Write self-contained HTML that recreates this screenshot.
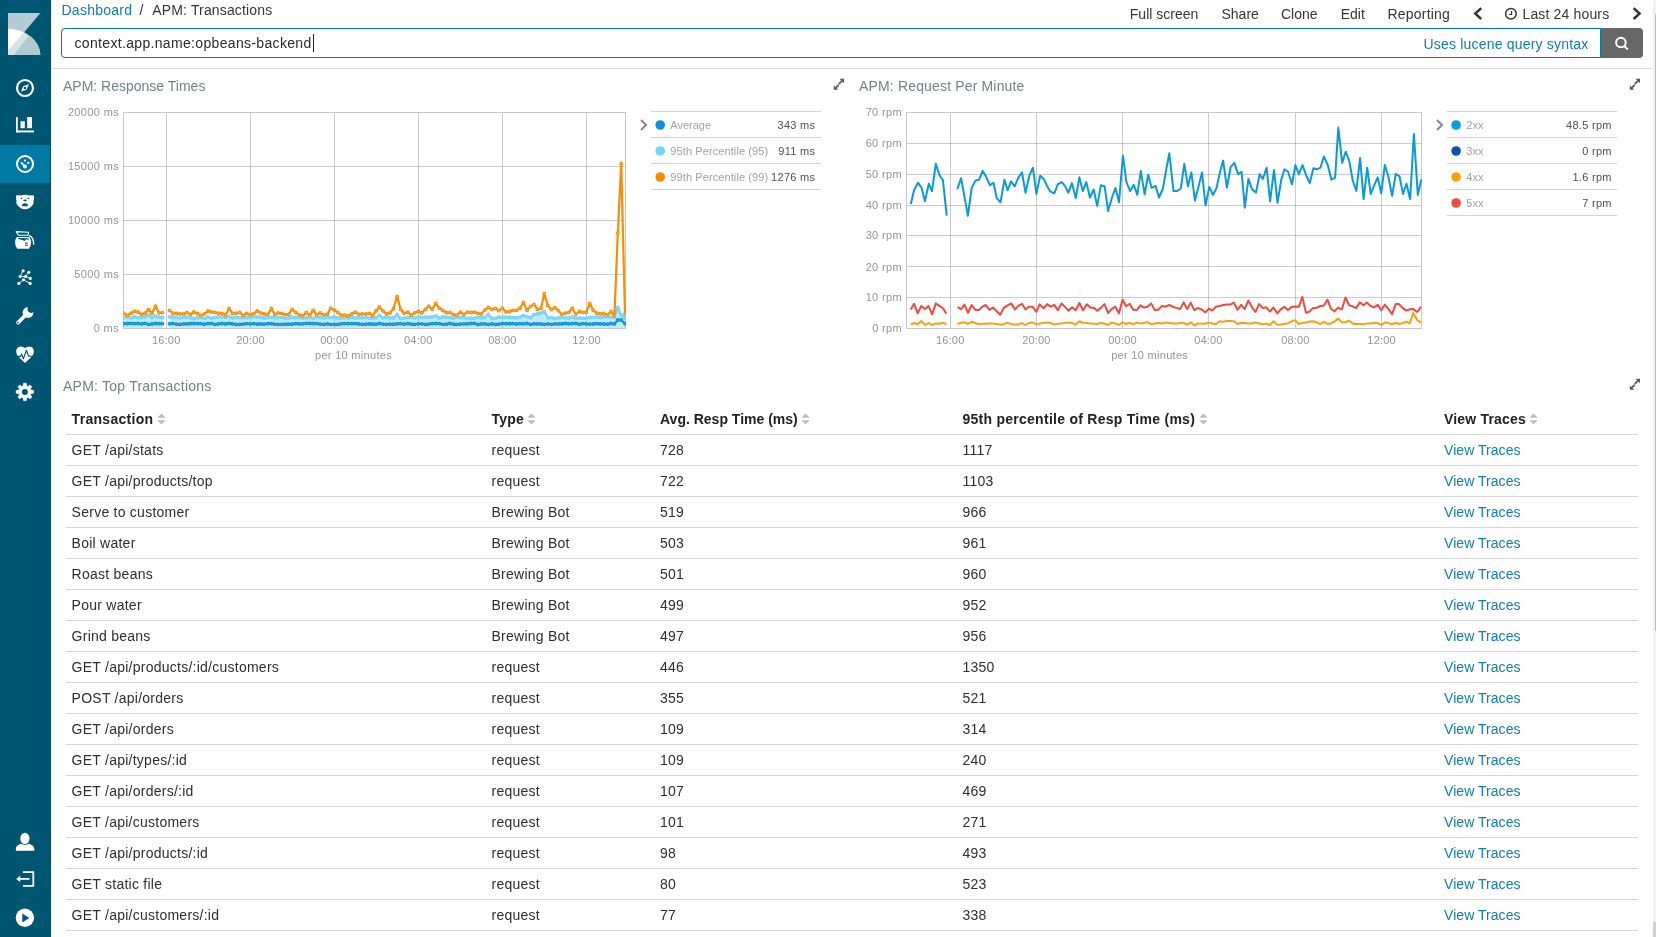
<!DOCTYPE html>
<html><head><meta charset="utf-8">
<style>
html,body{margin:0;padding:0;width:1656px;height:937px;overflow:hidden;background:#fff;}
body{font-family:"Liberation Sans", sans-serif;position:relative;}
#root{position:absolute;left:0;top:0;width:1656px;height:937px;will-change:transform;}
.a{position:absolute;white-space:pre;}
.t14{font-size:14px;line-height:14px;}
.t11{font-size:11px;line-height:11px;}
#side{position:absolute;left:0;top:0;width:51px;height:937px;background:#005571;}
#side .edge{position:absolute;left:50px;top:0;width:1px;height:937px;background:#004d66;}
#side .act{position:absolute;left:0;top:145px;width:50px;height:38px;background:#0079a5;}
.nav{color:#363636;}
.hdr{font-weight:bold;color:#222;}
.cell{color:#2f2f2f;}
.lnk{color:#0e7eab;}
.ylab{color:#959595;text-align:right;letter-spacing:0.35px;}
.xlab{color:#959595;text-align:center;letter-spacing:0.2px;}
.leg{color:#a2a2a2;}
.legv{color:#505050;text-align:right;letter-spacing:0.3px;}
.hl{position:absolute;height:1px;background:#d9d9d9;}
</style></head><body><div id="root">

<div id="side">
  <div class="act"></div>
  <div class="edge"></div>
  <svg width="51" height="937" style="position:absolute;left:0;top:0">
    <!-- logo -->
    <g transform="translate(8,13)">
      <path d="M0,0 L32.5,0 L16,19.4 L8,28.8 L0,28.8 Z" fill="#b4ccd3"/>
      <path d="M0,15.8 A32.5,26.2 0 0 1 32.5,42 L0,42 Z" fill="#b1c9d0"/>
      <path d="M0,15.8 A32.5,26.2 0 0 1 16,19.4 L0,38.2 Z" fill="#ffffff"/>
      <path d="M16,19.4 A32.5,26.2 0 0 1 20.4,23.3 L5.9,42 L0,42 L0,38.2 Z" fill="#d6e4e8"/>
    </g>
    <!-- compass -->
    <circle cx="25" cy="88" r="8" fill="none" stroke="#fff" stroke-width="2.2"/>
    <path d="M28.9,84 L26.7,89.6 L21,91.8 L23.2,86.2 Z" fill="#fff"/>
    <rect x="23.9" y="86.9" width="2.1" height="2.1" fill="#005571"/>
    <!-- visualize -->
    <rect x="16" y="117" width="1.8" height="15.4" fill="#fff"/>
    <rect x="16" y="130.5" width="18" height="1.9" fill="#fff"/>
    <rect x="20.5" y="121.2" width="4.3" height="7" fill="#fff"/>
    <rect x="27.2" y="117" width="4.8" height="11.2" fill="#fff"/>
    <!-- dashboard (active) -->
    <circle cx="25" cy="164" r="8" fill="none" stroke="#fff" stroke-width="2"/>
    <circle cx="25" cy="166.4" r="2" fill="#fff"/>
    <path d="M24.6,165.9 L21.5,162.9" stroke="#fff" stroke-width="1.9" stroke-linecap="round"/>
    <circle cx="24.9" cy="160.6" r="1.05" fill="#fff"/>
    <circle cx="28.3" cy="162.9" r="1.05" fill="#fff"/>
    <!-- bear -->
    <path d="M16,195.5 Q18.5,195.1 20.6,195.6 Q22.5,194.7 25,194.7 Q27.5,194.7 29.4,195.6 Q31.5,195.1 34,195.5 L33.9,199.8 L33.5,200.6 L33.6,203.6 Q32.5,206 29.5,208 Q27.5,209.2 25,209.2 Q22.5,209.2 20.5,208 Q17.5,206 16.4,203.6 L16.5,200.6 L16.1,199.8 Z" fill="#fff"/>
    <ellipse cx="21.5" cy="198.4" rx="0.9" ry="0.55" fill="#005571"/>
    <ellipse cx="28.3" cy="198.4" rx="0.9" ry="0.55" fill="#005571"/>
    <ellipse cx="25" cy="200.4" rx="1.7" ry="0.95" fill="#005571"/>
    <path d="M22,205.9 Q22,203.2 25,203.2 Q28,203.2 28,205.9 Q25,206.5 22,205.9 Z" fill="#005571"/>
    <!-- coffee pot -->
    <path d="M16.2,231.6 L28.6,232.3 L28,235.2 L18.5,235.2 Z" fill="none" stroke="#fff" stroke-width="1.1" stroke-linejoin="round"/>
    <path d="M16.6,237 L29.6,237 Q31.1,239.5 31.1,242.5 Q31.1,246.5 28.9,248.8 L17.3,248.8 Q15.1,246.5 15.1,242.5 Q15.1,239.5 16.6,237 Z" fill="#fff"/>
    <path d="M18,238.1 L28.8,238.3 L28.8,239.5 L25.6,239.5 L25,240.9 Q21,239.8 18,238.8 Z" fill="#005571"/>
    <rect x="25" y="242.6" width="2.8" height="1.1" fill="#005571"/>
    <rect x="25" y="244.7" width="2.8" height="1.1" fill="#005571"/>
    <path d="M28.8,235.4 Q33.7,236.6 33.7,244.8" fill="none" stroke="#fff" stroke-width="1.4"/>
    <!-- graph -->
    <g stroke="#fff" stroke-width="0.9" fill="none">
      <path d="M23.1,270.7 L20.2,276.5 L25.75,276.4 L28.8,272.3 M25.75,276.4 L30.3,278.4 M23.5,279.8 L18.9,283.4 M23.5,279.8 L30.05,283.4"/>
    </g>
    <g fill="#fff">
      <circle cx="23.1" cy="270.7" r="1.55"/><circle cx="28.8" cy="272.3" r="1.55"/>
      <circle cx="20.2" cy="276.5" r="1.6"/><circle cx="25.75" cy="276.4" r="1.55"/>
      <circle cx="30.3" cy="278.4" r="1.6"/><circle cx="23.5" cy="279.8" r="1.6"/>
      <circle cx="18.9" cy="283.4" r="1.6"/><circle cx="30.05" cy="283.4" r="1.6"/>
    </g>
    <!-- wrench -->
    <circle cx="28" cy="312.5" r="5.4" fill="#fff"/>
    <path d="M26.8,313.7 L18.1,322.6" stroke="#fff" stroke-width="3.7" stroke-linecap="round"/>
    <circle cx="31.3" cy="309.1" r="3.8" fill="#005571"/>
    <path d="M31.3,305.3 L36,305.3 L36,309.1 L31.3,309.1 Z" fill="#005571"/>
    <circle cx="18.1" cy="322.6" r="0.95" fill="#005571"/>
    <!-- heart -->
    <path d="M25,348.1 Q23.2,346.4 20.6,346.5 Q16.2,346.8 16.2,351.5 Q16.2,354 17.8,356 L19.2,357.5 L25,362.9 L30.8,357.5 L32.2,356 Q33.9,354 33.9,351.5 Q33.9,346.8 29.4,346.5 Q26.8,346.4 25,348.1 Z" fill="#fff"/>
    <path d="M15.5,356.4 L20.4,356.4 L21.7,354.2 L23.4,358.7 L26.4,350.3 L28.6,356.3 L34.5,356.3" fill="none" stroke="#005571" stroke-width="1.1" stroke-linejoin="round"/>
    <!-- gear -->
    <path d="M23.27,385.81 L23.52,383.21 L26.28,383.21 L26.53,385.81 L28.05,386.44 L29.95,384.94 L31.86,386.85 L30.36,388.75 L30.99,390.27 L33.59,390.52 L33.59,393.28 L30.99,393.53 L30.36,395.05 L31.86,396.95 L29.95,398.86 L28.05,397.36 L26.53,397.99 L26.28,400.59 L23.52,400.59 L23.27,397.99 L21.75,397.36 L19.85,398.86 L17.94,396.95 L19.44,395.05 L18.81,393.53 L16.21,393.28 L16.21,390.52 L18.81,390.27 L19.44,388.75 L17.94,386.85 L19.85,384.94 L21.75,386.44 Z" fill="#fff" stroke="#fff" stroke-width="0.7" stroke-linejoin="round"/>
    <circle cx="24.9" cy="391.9" r="3" fill="#005571"/>
    <!-- user -->
    <ellipse cx="24.9" cy="838.5" rx="4.6" ry="5.8" fill="#fff"/>
    <path d="M15.9,850.8 L15.9,848.5 Q16.5,845 21,843.8 Q24.9,846 28.8,843.8 Q33.3,845 34.3,848.5 L34.3,850.8 Z" fill="#fff"/>
    <!-- logout -->
    <path d="M22.9,872.2 L33.3,872.2 L33.3,885.9 L22.9,885.9" fill="none" stroke="#fff" stroke-width="1.8"/>
    <path d="M19.5,878.9 L29.4,878.9" stroke="#fff" stroke-width="1.8"/>
    <path d="M16.2,878.9 L20.2,875.7 L20.2,882.1 Z" fill="#fff"/>
    <!-- play -->
    <circle cx="24.9" cy="917.7" r="9.2" fill="#fff"/>
    <path d="M22.3,913.6 L29.4,918 L22.3,922.4 Z" fill="#005571"/>
  </svg>
</div>

<!-- breadcrumbs -->
<div class="a t14" style="left:61.5px;top:3px;color:#0e7eab;letter-spacing:0.25px">Dashboard</div>
<div class="a t14 nav" style="left:139.5px;top:3px;">/</div>
<div class="a t14 nav" style="left:152.3px;top:3px;letter-spacing:0.15px">APM: Transactions</div>

<!-- top menu -->
<div class="a t14 nav" style="left:1129.8px;top:7px;">Full screen</div>
<div class="a t14 nav" style="left:1221.5px;top:7px;">Share</div>
<div class="a t14 nav" style="left:1281px;top:7px;">Clone</div>
<div class="a t14 nav" style="left:1340.7px;top:7px;">Edit</div>
<div class="a t14 nav" style="left:1387.5px;top:7px;letter-spacing:0.2px">Reporting</div>
<svg class="a" style="left:1470px;top:6px" width="16" height="16"><path d="M11.2,2.2 L5.3,7.6 L11.2,13" fill="none" stroke="#333" stroke-width="2.5"/></svg>
<svg class="a" style="left:1503px;top:7px" width="16" height="16"><circle cx="7.9" cy="6.8" r="5.3" fill="none" stroke="#333" stroke-width="1.5"/><path d="M8.6,4 L8.6,7.5 L5.9,7.5" fill="none" stroke="#333" stroke-width="1.2"/></svg>
<div class="a t14 nav" style="left:1522.5px;top:7px;letter-spacing:0.15px">Last 24 hours</div>
<svg class="a" style="left:1628px;top:6px" width="16" height="16"><path d="M5.6,2.2 L11.5,7.6 L5.6,13" fill="none" stroke="#333" stroke-width="2.5"/></svg>

<!-- search bar -->
<div class="a" style="left:61px;top:28px;width:1538px;height:28px;border:1px solid #0079a5;border-radius:4px 0 0 4px;box-sizing:content-box;"></div>
<div class="a" style="left:1601px;top:28px;width:42px;height:30px;background:#676767;border-radius:0 4px 4px 0;"></div>
<svg class="a" style="left:1611px;top:33px" width="20" height="20"><circle cx="9.9" cy="9.5" r="4.8" fill="none" stroke="#fff" stroke-width="1.9"/><path d="M13.5,13.2 L16.2,15.9" stroke="#fff" stroke-width="2" stroke-linecap="round"/></svg>
<div class="a t14" style="left:74.5px;top:36px;color:#2b2b2b;letter-spacing:0.33px">context.app.name:opbeans-backend</div>
<div class="a" style="left:313px;top:34px;width:1px;height:18px;background:#222;"></div>
<div class="a t14" style="left:1423.4px;top:37px;color:#0e7eab;letter-spacing:0.2px">Uses lucene query syntax</div>

<div class="hl" style="left:51px;top:68px;width:1602px;"></div>

<!-- panel titles -->
<div class="a t14" style="left:63px;top:79px;color:#738388;letter-spacing:0px;">APM: Response Times</div>
<div class="a t14" style="left:859px;top:79px;color:#738388;letter-spacing:0.16px;">APM: Request Per Minute</div>
<div class="a t14" style="left:63px;top:379px;color:#738388;letter-spacing:0.23px;">APM: Top Transactions</div>

<!-- expand icons -->
<svg class="a" style="left:830px;top:76px" width="16" height="16"><path d="M11.6,5.2 L9.3,7.5 M6.2,11.4 L8.1,9.5" stroke="#5a5a5a" stroke-width="1.8" stroke-linecap="round"/><path d="M14,2.8 L9.6,2.8 L14,7.2 Z M3.8,13.8 L3.8,9.4 L8.2,13.8 Z" fill="#5a5a5a"/></svg>
<svg class="a" style="left:1626px;top:76px" width="16" height="16"><path d="M11.6,5.2 L9.3,7.5 M6.2,11.4 L8.1,9.5" stroke="#5a5a5a" stroke-width="1.8" stroke-linecap="round"/><path d="M14,2.8 L9.6,2.8 L14,7.2 Z M3.8,13.8 L3.8,9.4 L8.2,13.8 Z" fill="#5a5a5a"/></svg>
<svg class="a" style="left:1626px;top:376px" width="16" height="16"><path d="M11.6,5.2 L9.3,7.5 M6.2,11.4 L8.1,9.5" stroke="#5a5a5a" stroke-width="1.8" stroke-linecap="round"/><path d="M14,2.8 L9.6,2.8 L14,7.2 Z M3.8,13.8 L3.8,9.4 L8.2,13.8 Z" fill="#5a5a5a"/></svg>

<!-- chart svgs -->
<svg class="a" style="left:0;top:0" width="1656" height="370">
<line x1="123" y1="166.5" x2="625" y2="166.5" stroke="rgba(0,0,0,0.2)" stroke-width="1"/>
<line x1="123" y1="220.5" x2="625" y2="220.5" stroke="rgba(0,0,0,0.2)" stroke-width="1"/>
<line x1="123" y1="274.5" x2="625" y2="274.5" stroke="rgba(0,0,0,0.2)" stroke-width="1"/>
<line x1="166.5" y1="113" x2="166.5" y2="328" stroke="rgba(0,0,0,0.2)" stroke-width="1"/>
<line x1="250.5" y1="113" x2="250.5" y2="328" stroke="rgba(0,0,0,0.2)" stroke-width="1"/>
<line x1="334.5" y1="113" x2="334.5" y2="328" stroke="rgba(0,0,0,0.2)" stroke-width="1"/>
<line x1="418.5" y1="113" x2="418.5" y2="328" stroke="rgba(0,0,0,0.2)" stroke-width="1"/>
<line x1="502.5" y1="113" x2="502.5" y2="328" stroke="rgba(0,0,0,0.2)" stroke-width="1"/>
<line x1="586.5" y1="113" x2="586.5" y2="328" stroke="rgba(0,0,0,0.2)" stroke-width="1"/>
<rect x="123.5" y="112.5" width="502" height="216" fill="none" stroke="rgba(0,0,0,0.21)" stroke-width="1"/>
<defs><clipPath id="cp1"><rect x="123" y="100" width="503" height="229"/></clipPath></defs><g clip-path="url(#cp1)">
<polygon points="123.5,328.0 123.5,317.3 127.5,317.0 131.0,317.8 134.5,316.9 138.0,317.7 141.6,317.4 145.1,316.9 148.4,315.1 152.0,317.6 155.5,316.0 158.9,316.9 162.4,317.5 162.4,328.0" fill="rgba(110,208,255,0.45)" stroke="none"/>
<polygon points="169.5,328.0 169.5,316.9 172.7,316.9 176.5,317.5 180.0,318.1 183.6,317.0 187.1,317.2 190.5,317.8 193.8,318.3 197.3,317.7 200.8,317.4 204.4,318.4 207.9,316.9 211.4,318.2 215.0,317.3 218.5,317.0 222.0,317.0 225.6,317.3 229.1,316.5 232.6,318.1 236.2,317.1 239.7,317.7 243.2,317.8 246.6,317.4 250.1,317.7 253.6,316.9 257.2,316.9 260.7,317.1 264.2,317.9 267.8,317.5 271.3,317.3 274.7,317.7 278.1,317.5 281.7,317.3 285.2,318.1 288.7,317.9 292.1,317.2 295.6,317.7 299.2,317.6 302.7,318.2 306.2,318.0 309.8,317.3 313.1,318.4 316.6,317.0 320.2,317.5 323.7,318.0 327.3,317.0 330.6,317.6 334.3,316.9 337.9,317.9 341.2,318.0 344.7,317.7 348.2,318.2 351.7,317.3 355.3,317.9 358.8,317.8 362.3,317.7 365.9,317.5 369.4,318.1 372.6,318.3 375.9,317.6 379.4,315.2 383.0,317.9 386.5,316.9 390.0,317.9 393.5,317.8 397.1,314.4 400.6,318.4 404.1,318.1 407.7,317.3 411.2,317.4 414.7,317.9 418.3,316.8 421.8,317.5 425.3,317.1 428.7,317.0 432.2,316.9 435.8,316.0 439.3,318.0 442.8,317.0 446.4,317.2 449.9,317.4 453.4,318.2 456.7,316.9 460.3,317.5 463.8,317.7 467.3,318.2 470.9,318.1 474.4,318.2 477.9,317.2 481.3,317.5 484.8,317.4 488.4,314.5 491.9,318.2 495.4,318.3 498.7,317.0 502.3,317.1 506.0,317.2 509.5,317.2 512.9,317.6 516.4,317.7 519.9,317.2 523.4,315.3 527.0,316.8 530.5,317.5 534.0,314.6 537.4,313.9 541.0,313.1 544.3,311.5 547.8,317.4 551.2,317.7 554.9,318.3 558.4,317.9 561.8,317.6 565.3,317.8 568.8,317.9 572.3,316.9 575.8,318.2 579.4,318.0 582.9,318.2 586.3,318.1 589.7,317.4 593.2,317.4 596.7,317.0 600.3,317.8 603.8,316.9 607.5,316.9 610.9,317.1 614.4,317.1 617.8,307.4 621.2,315.2 625.0,318.0 625.0,328.0" fill="rgba(110,208,255,0.45)" stroke="none"/>
<polyline points="123.5,317.3 127.5,317.0 131.0,317.8 134.5,316.9 138.0,317.7 141.6,317.4 145.1,316.9 148.4,315.1 152.0,317.6 155.5,316.0 158.9,316.9 162.4,317.5" fill="none" stroke="#6fd3fd" stroke-width="2.2" stroke-linejoin="round" />
<circle cx="123.5" cy="317.3" r="1.3" fill="#a8e4fd" stroke="#6fd3fd" stroke-width="1.2"/><circle cx="127.5" cy="317.0" r="1.3" fill="#a8e4fd" stroke="#6fd3fd" stroke-width="1.2"/><circle cx="131.0" cy="317.8" r="1.3" fill="#a8e4fd" stroke="#6fd3fd" stroke-width="1.2"/><circle cx="134.5" cy="316.9" r="1.3" fill="#a8e4fd" stroke="#6fd3fd" stroke-width="1.2"/><circle cx="138.0" cy="317.7" r="1.3" fill="#a8e4fd" stroke="#6fd3fd" stroke-width="1.2"/><circle cx="141.6" cy="317.4" r="1.3" fill="#a8e4fd" stroke="#6fd3fd" stroke-width="1.2"/><circle cx="145.1" cy="316.9" r="1.3" fill="#a8e4fd" stroke="#6fd3fd" stroke-width="1.2"/><circle cx="148.4" cy="315.1" r="1.3" fill="#a8e4fd" stroke="#6fd3fd" stroke-width="1.2"/><circle cx="152.0" cy="317.6" r="1.3" fill="#a8e4fd" stroke="#6fd3fd" stroke-width="1.2"/><circle cx="155.5" cy="316.0" r="1.3" fill="#a8e4fd" stroke="#6fd3fd" stroke-width="1.2"/><circle cx="158.9" cy="316.9" r="1.3" fill="#a8e4fd" stroke="#6fd3fd" stroke-width="1.2"/><circle cx="162.4" cy="317.5" r="1.3" fill="#a8e4fd" stroke="#6fd3fd" stroke-width="1.2"/>
<polyline points="169.5,316.9 172.7,316.9 176.5,317.5 180.0,318.1 183.6,317.0 187.1,317.2 190.5,317.8 193.8,318.3 197.3,317.7 200.8,317.4 204.4,318.4 207.9,316.9 211.4,318.2 215.0,317.3 218.5,317.0 222.0,317.0 225.6,317.3 229.1,316.5 232.6,318.1 236.2,317.1 239.7,317.7 243.2,317.8 246.6,317.4 250.1,317.7 253.6,316.9 257.2,316.9 260.7,317.1 264.2,317.9 267.8,317.5 271.3,317.3 274.7,317.7 278.1,317.5 281.7,317.3 285.2,318.1 288.7,317.9 292.1,317.2 295.6,317.7 299.2,317.6 302.7,318.2 306.2,318.0 309.8,317.3 313.1,318.4 316.6,317.0 320.2,317.5 323.7,318.0 327.3,317.0 330.6,317.6 334.3,316.9 337.9,317.9 341.2,318.0 344.7,317.7 348.2,318.2 351.7,317.3 355.3,317.9 358.8,317.8 362.3,317.7 365.9,317.5 369.4,318.1 372.6,318.3 375.9,317.6 379.4,315.2 383.0,317.9 386.5,316.9 390.0,317.9 393.5,317.8 397.1,314.4 400.6,318.4 404.1,318.1 407.7,317.3 411.2,317.4 414.7,317.9 418.3,316.8 421.8,317.5 425.3,317.1 428.7,317.0 432.2,316.9 435.8,316.0 439.3,318.0 442.8,317.0 446.4,317.2 449.9,317.4 453.4,318.2 456.7,316.9 460.3,317.5 463.8,317.7 467.3,318.2 470.9,318.1 474.4,318.2 477.9,317.2 481.3,317.5 484.8,317.4 488.4,314.5 491.9,318.2 495.4,318.3 498.7,317.0 502.3,317.1 506.0,317.2 509.5,317.2 512.9,317.6 516.4,317.7 519.9,317.2 523.4,315.3 527.0,316.8 530.5,317.5 534.0,314.6 537.4,313.9 541.0,313.1 544.3,311.5 547.8,317.4 551.2,317.7 554.9,318.3 558.4,317.9 561.8,317.6 565.3,317.8 568.8,317.9 572.3,316.9 575.8,318.2 579.4,318.0 582.9,318.2 586.3,318.1 589.7,317.4 593.2,317.4 596.7,317.0 600.3,317.8 603.8,316.9 607.5,316.9 610.9,317.1 614.4,317.1 617.8,307.4 621.2,315.2 625.0,318.0" fill="none" stroke="#6fd3fd" stroke-width="2.2" stroke-linejoin="round" />
<circle cx="169.5" cy="316.9" r="1.3" fill="#a8e4fd" stroke="#6fd3fd" stroke-width="1.2"/><circle cx="172.7" cy="316.9" r="1.3" fill="#a8e4fd" stroke="#6fd3fd" stroke-width="1.2"/><circle cx="176.5" cy="317.5" r="1.3" fill="#a8e4fd" stroke="#6fd3fd" stroke-width="1.2"/><circle cx="180.0" cy="318.1" r="1.3" fill="#a8e4fd" stroke="#6fd3fd" stroke-width="1.2"/><circle cx="183.6" cy="317.0" r="1.3" fill="#a8e4fd" stroke="#6fd3fd" stroke-width="1.2"/><circle cx="187.1" cy="317.2" r="1.3" fill="#a8e4fd" stroke="#6fd3fd" stroke-width="1.2"/><circle cx="190.5" cy="317.8" r="1.3" fill="#a8e4fd" stroke="#6fd3fd" stroke-width="1.2"/><circle cx="193.8" cy="318.3" r="1.3" fill="#a8e4fd" stroke="#6fd3fd" stroke-width="1.2"/><circle cx="197.3" cy="317.7" r="1.3" fill="#a8e4fd" stroke="#6fd3fd" stroke-width="1.2"/><circle cx="200.8" cy="317.4" r="1.3" fill="#a8e4fd" stroke="#6fd3fd" stroke-width="1.2"/><circle cx="204.4" cy="318.4" r="1.3" fill="#a8e4fd" stroke="#6fd3fd" stroke-width="1.2"/><circle cx="207.9" cy="316.9" r="1.3" fill="#a8e4fd" stroke="#6fd3fd" stroke-width="1.2"/><circle cx="211.4" cy="318.2" r="1.3" fill="#a8e4fd" stroke="#6fd3fd" stroke-width="1.2"/><circle cx="215.0" cy="317.3" r="1.3" fill="#a8e4fd" stroke="#6fd3fd" stroke-width="1.2"/><circle cx="218.5" cy="317.0" r="1.3" fill="#a8e4fd" stroke="#6fd3fd" stroke-width="1.2"/><circle cx="222.0" cy="317.0" r="1.3" fill="#a8e4fd" stroke="#6fd3fd" stroke-width="1.2"/><circle cx="225.6" cy="317.3" r="1.3" fill="#a8e4fd" stroke="#6fd3fd" stroke-width="1.2"/><circle cx="229.1" cy="316.5" r="1.3" fill="#a8e4fd" stroke="#6fd3fd" stroke-width="1.2"/><circle cx="232.6" cy="318.1" r="1.3" fill="#a8e4fd" stroke="#6fd3fd" stroke-width="1.2"/><circle cx="236.2" cy="317.1" r="1.3" fill="#a8e4fd" stroke="#6fd3fd" stroke-width="1.2"/><circle cx="239.7" cy="317.7" r="1.3" fill="#a8e4fd" stroke="#6fd3fd" stroke-width="1.2"/><circle cx="243.2" cy="317.8" r="1.3" fill="#a8e4fd" stroke="#6fd3fd" stroke-width="1.2"/><circle cx="246.6" cy="317.4" r="1.3" fill="#a8e4fd" stroke="#6fd3fd" stroke-width="1.2"/><circle cx="250.1" cy="317.7" r="1.3" fill="#a8e4fd" stroke="#6fd3fd" stroke-width="1.2"/><circle cx="253.6" cy="316.9" r="1.3" fill="#a8e4fd" stroke="#6fd3fd" stroke-width="1.2"/><circle cx="257.2" cy="316.9" r="1.3" fill="#a8e4fd" stroke="#6fd3fd" stroke-width="1.2"/><circle cx="260.7" cy="317.1" r="1.3" fill="#a8e4fd" stroke="#6fd3fd" stroke-width="1.2"/><circle cx="264.2" cy="317.9" r="1.3" fill="#a8e4fd" stroke="#6fd3fd" stroke-width="1.2"/><circle cx="267.8" cy="317.5" r="1.3" fill="#a8e4fd" stroke="#6fd3fd" stroke-width="1.2"/><circle cx="271.3" cy="317.3" r="1.3" fill="#a8e4fd" stroke="#6fd3fd" stroke-width="1.2"/><circle cx="274.7" cy="317.7" r="1.3" fill="#a8e4fd" stroke="#6fd3fd" stroke-width="1.2"/><circle cx="278.1" cy="317.5" r="1.3" fill="#a8e4fd" stroke="#6fd3fd" stroke-width="1.2"/><circle cx="281.7" cy="317.3" r="1.3" fill="#a8e4fd" stroke="#6fd3fd" stroke-width="1.2"/><circle cx="285.2" cy="318.1" r="1.3" fill="#a8e4fd" stroke="#6fd3fd" stroke-width="1.2"/><circle cx="288.7" cy="317.9" r="1.3" fill="#a8e4fd" stroke="#6fd3fd" stroke-width="1.2"/><circle cx="292.1" cy="317.2" r="1.3" fill="#a8e4fd" stroke="#6fd3fd" stroke-width="1.2"/><circle cx="295.6" cy="317.7" r="1.3" fill="#a8e4fd" stroke="#6fd3fd" stroke-width="1.2"/><circle cx="299.2" cy="317.6" r="1.3" fill="#a8e4fd" stroke="#6fd3fd" stroke-width="1.2"/><circle cx="302.7" cy="318.2" r="1.3" fill="#a8e4fd" stroke="#6fd3fd" stroke-width="1.2"/><circle cx="306.2" cy="318.0" r="1.3" fill="#a8e4fd" stroke="#6fd3fd" stroke-width="1.2"/><circle cx="309.8" cy="317.3" r="1.3" fill="#a8e4fd" stroke="#6fd3fd" stroke-width="1.2"/><circle cx="313.1" cy="318.4" r="1.3" fill="#a8e4fd" stroke="#6fd3fd" stroke-width="1.2"/><circle cx="316.6" cy="317.0" r="1.3" fill="#a8e4fd" stroke="#6fd3fd" stroke-width="1.2"/><circle cx="320.2" cy="317.5" r="1.3" fill="#a8e4fd" stroke="#6fd3fd" stroke-width="1.2"/><circle cx="323.7" cy="318.0" r="1.3" fill="#a8e4fd" stroke="#6fd3fd" stroke-width="1.2"/><circle cx="327.3" cy="317.0" r="1.3" fill="#a8e4fd" stroke="#6fd3fd" stroke-width="1.2"/><circle cx="330.6" cy="317.6" r="1.3" fill="#a8e4fd" stroke="#6fd3fd" stroke-width="1.2"/><circle cx="334.3" cy="316.9" r="1.3" fill="#a8e4fd" stroke="#6fd3fd" stroke-width="1.2"/><circle cx="337.9" cy="317.9" r="1.3" fill="#a8e4fd" stroke="#6fd3fd" stroke-width="1.2"/><circle cx="341.2" cy="318.0" r="1.3" fill="#a8e4fd" stroke="#6fd3fd" stroke-width="1.2"/><circle cx="344.7" cy="317.7" r="1.3" fill="#a8e4fd" stroke="#6fd3fd" stroke-width="1.2"/><circle cx="348.2" cy="318.2" r="1.3" fill="#a8e4fd" stroke="#6fd3fd" stroke-width="1.2"/><circle cx="351.7" cy="317.3" r="1.3" fill="#a8e4fd" stroke="#6fd3fd" stroke-width="1.2"/><circle cx="355.3" cy="317.9" r="1.3" fill="#a8e4fd" stroke="#6fd3fd" stroke-width="1.2"/><circle cx="358.8" cy="317.8" r="1.3" fill="#a8e4fd" stroke="#6fd3fd" stroke-width="1.2"/><circle cx="362.3" cy="317.7" r="1.3" fill="#a8e4fd" stroke="#6fd3fd" stroke-width="1.2"/><circle cx="365.9" cy="317.5" r="1.3" fill="#a8e4fd" stroke="#6fd3fd" stroke-width="1.2"/><circle cx="369.4" cy="318.1" r="1.3" fill="#a8e4fd" stroke="#6fd3fd" stroke-width="1.2"/><circle cx="372.6" cy="318.3" r="1.3" fill="#a8e4fd" stroke="#6fd3fd" stroke-width="1.2"/><circle cx="375.9" cy="317.6" r="1.3" fill="#a8e4fd" stroke="#6fd3fd" stroke-width="1.2"/><circle cx="379.4" cy="315.2" r="1.3" fill="#a8e4fd" stroke="#6fd3fd" stroke-width="1.2"/><circle cx="383.0" cy="317.9" r="1.3" fill="#a8e4fd" stroke="#6fd3fd" stroke-width="1.2"/><circle cx="386.5" cy="316.9" r="1.3" fill="#a8e4fd" stroke="#6fd3fd" stroke-width="1.2"/><circle cx="390.0" cy="317.9" r="1.3" fill="#a8e4fd" stroke="#6fd3fd" stroke-width="1.2"/><circle cx="393.5" cy="317.8" r="1.3" fill="#a8e4fd" stroke="#6fd3fd" stroke-width="1.2"/><circle cx="397.1" cy="314.4" r="1.3" fill="#a8e4fd" stroke="#6fd3fd" stroke-width="1.2"/><circle cx="400.6" cy="318.4" r="1.3" fill="#a8e4fd" stroke="#6fd3fd" stroke-width="1.2"/><circle cx="404.1" cy="318.1" r="1.3" fill="#a8e4fd" stroke="#6fd3fd" stroke-width="1.2"/><circle cx="407.7" cy="317.3" r="1.3" fill="#a8e4fd" stroke="#6fd3fd" stroke-width="1.2"/><circle cx="411.2" cy="317.4" r="1.3" fill="#a8e4fd" stroke="#6fd3fd" stroke-width="1.2"/><circle cx="414.7" cy="317.9" r="1.3" fill="#a8e4fd" stroke="#6fd3fd" stroke-width="1.2"/><circle cx="418.3" cy="316.8" r="1.3" fill="#a8e4fd" stroke="#6fd3fd" stroke-width="1.2"/><circle cx="421.8" cy="317.5" r="1.3" fill="#a8e4fd" stroke="#6fd3fd" stroke-width="1.2"/><circle cx="425.3" cy="317.1" r="1.3" fill="#a8e4fd" stroke="#6fd3fd" stroke-width="1.2"/><circle cx="428.7" cy="317.0" r="1.3" fill="#a8e4fd" stroke="#6fd3fd" stroke-width="1.2"/><circle cx="432.2" cy="316.9" r="1.3" fill="#a8e4fd" stroke="#6fd3fd" stroke-width="1.2"/><circle cx="435.8" cy="316.0" r="1.3" fill="#a8e4fd" stroke="#6fd3fd" stroke-width="1.2"/><circle cx="439.3" cy="318.0" r="1.3" fill="#a8e4fd" stroke="#6fd3fd" stroke-width="1.2"/><circle cx="442.8" cy="317.0" r="1.3" fill="#a8e4fd" stroke="#6fd3fd" stroke-width="1.2"/><circle cx="446.4" cy="317.2" r="1.3" fill="#a8e4fd" stroke="#6fd3fd" stroke-width="1.2"/><circle cx="449.9" cy="317.4" r="1.3" fill="#a8e4fd" stroke="#6fd3fd" stroke-width="1.2"/><circle cx="453.4" cy="318.2" r="1.3" fill="#a8e4fd" stroke="#6fd3fd" stroke-width="1.2"/><circle cx="456.7" cy="316.9" r="1.3" fill="#a8e4fd" stroke="#6fd3fd" stroke-width="1.2"/><circle cx="460.3" cy="317.5" r="1.3" fill="#a8e4fd" stroke="#6fd3fd" stroke-width="1.2"/><circle cx="463.8" cy="317.7" r="1.3" fill="#a8e4fd" stroke="#6fd3fd" stroke-width="1.2"/><circle cx="467.3" cy="318.2" r="1.3" fill="#a8e4fd" stroke="#6fd3fd" stroke-width="1.2"/><circle cx="470.9" cy="318.1" r="1.3" fill="#a8e4fd" stroke="#6fd3fd" stroke-width="1.2"/><circle cx="474.4" cy="318.2" r="1.3" fill="#a8e4fd" stroke="#6fd3fd" stroke-width="1.2"/><circle cx="477.9" cy="317.2" r="1.3" fill="#a8e4fd" stroke="#6fd3fd" stroke-width="1.2"/><circle cx="481.3" cy="317.5" r="1.3" fill="#a8e4fd" stroke="#6fd3fd" stroke-width="1.2"/><circle cx="484.8" cy="317.4" r="1.3" fill="#a8e4fd" stroke="#6fd3fd" stroke-width="1.2"/><circle cx="488.4" cy="314.5" r="1.3" fill="#a8e4fd" stroke="#6fd3fd" stroke-width="1.2"/><circle cx="491.9" cy="318.2" r="1.3" fill="#a8e4fd" stroke="#6fd3fd" stroke-width="1.2"/><circle cx="495.4" cy="318.3" r="1.3" fill="#a8e4fd" stroke="#6fd3fd" stroke-width="1.2"/><circle cx="498.7" cy="317.0" r="1.3" fill="#a8e4fd" stroke="#6fd3fd" stroke-width="1.2"/><circle cx="502.3" cy="317.1" r="1.3" fill="#a8e4fd" stroke="#6fd3fd" stroke-width="1.2"/><circle cx="506.0" cy="317.2" r="1.3" fill="#a8e4fd" stroke="#6fd3fd" stroke-width="1.2"/><circle cx="509.5" cy="317.2" r="1.3" fill="#a8e4fd" stroke="#6fd3fd" stroke-width="1.2"/><circle cx="512.9" cy="317.6" r="1.3" fill="#a8e4fd" stroke="#6fd3fd" stroke-width="1.2"/><circle cx="516.4" cy="317.7" r="1.3" fill="#a8e4fd" stroke="#6fd3fd" stroke-width="1.2"/><circle cx="519.9" cy="317.2" r="1.3" fill="#a8e4fd" stroke="#6fd3fd" stroke-width="1.2"/><circle cx="523.4" cy="315.3" r="1.3" fill="#a8e4fd" stroke="#6fd3fd" stroke-width="1.2"/><circle cx="527.0" cy="316.8" r="1.3" fill="#a8e4fd" stroke="#6fd3fd" stroke-width="1.2"/><circle cx="530.5" cy="317.5" r="1.3" fill="#a8e4fd" stroke="#6fd3fd" stroke-width="1.2"/><circle cx="534.0" cy="314.6" r="1.3" fill="#a8e4fd" stroke="#6fd3fd" stroke-width="1.2"/><circle cx="537.4" cy="313.9" r="1.3" fill="#a8e4fd" stroke="#6fd3fd" stroke-width="1.2"/><circle cx="541.0" cy="313.1" r="1.3" fill="#a8e4fd" stroke="#6fd3fd" stroke-width="1.2"/><circle cx="544.3" cy="311.5" r="1.3" fill="#a8e4fd" stroke="#6fd3fd" stroke-width="1.2"/><circle cx="547.8" cy="317.4" r="1.3" fill="#a8e4fd" stroke="#6fd3fd" stroke-width="1.2"/><circle cx="551.2" cy="317.7" r="1.3" fill="#a8e4fd" stroke="#6fd3fd" stroke-width="1.2"/><circle cx="554.9" cy="318.3" r="1.3" fill="#a8e4fd" stroke="#6fd3fd" stroke-width="1.2"/><circle cx="558.4" cy="317.9" r="1.3" fill="#a8e4fd" stroke="#6fd3fd" stroke-width="1.2"/><circle cx="561.8" cy="317.6" r="1.3" fill="#a8e4fd" stroke="#6fd3fd" stroke-width="1.2"/><circle cx="565.3" cy="317.8" r="1.3" fill="#a8e4fd" stroke="#6fd3fd" stroke-width="1.2"/><circle cx="568.8" cy="317.9" r="1.3" fill="#a8e4fd" stroke="#6fd3fd" stroke-width="1.2"/><circle cx="572.3" cy="316.9" r="1.3" fill="#a8e4fd" stroke="#6fd3fd" stroke-width="1.2"/><circle cx="575.8" cy="318.2" r="1.3" fill="#a8e4fd" stroke="#6fd3fd" stroke-width="1.2"/><circle cx="579.4" cy="318.0" r="1.3" fill="#a8e4fd" stroke="#6fd3fd" stroke-width="1.2"/><circle cx="582.9" cy="318.2" r="1.3" fill="#a8e4fd" stroke="#6fd3fd" stroke-width="1.2"/><circle cx="586.3" cy="318.1" r="1.3" fill="#a8e4fd" stroke="#6fd3fd" stroke-width="1.2"/><circle cx="589.7" cy="317.4" r="1.3" fill="#a8e4fd" stroke="#6fd3fd" stroke-width="1.2"/><circle cx="593.2" cy="317.4" r="1.3" fill="#a8e4fd" stroke="#6fd3fd" stroke-width="1.2"/><circle cx="596.7" cy="317.0" r="1.3" fill="#a8e4fd" stroke="#6fd3fd" stroke-width="1.2"/><circle cx="600.3" cy="317.8" r="1.3" fill="#a8e4fd" stroke="#6fd3fd" stroke-width="1.2"/><circle cx="603.8" cy="316.9" r="1.3" fill="#a8e4fd" stroke="#6fd3fd" stroke-width="1.2"/><circle cx="607.5" cy="316.9" r="1.3" fill="#a8e4fd" stroke="#6fd3fd" stroke-width="1.2"/><circle cx="610.9" cy="317.1" r="1.3" fill="#a8e4fd" stroke="#6fd3fd" stroke-width="1.2"/><circle cx="614.4" cy="317.1" r="1.3" fill="#a8e4fd" stroke="#6fd3fd" stroke-width="1.2"/><circle cx="617.8" cy="307.4" r="1.3" fill="#a8e4fd" stroke="#6fd3fd" stroke-width="1.2"/><circle cx="621.2" cy="315.2" r="1.3" fill="#a8e4fd" stroke="#6fd3fd" stroke-width="1.2"/><circle cx="625.0" cy="318.0" r="1.3" fill="#a8e4fd" stroke="#6fd3fd" stroke-width="1.2"/>
<polyline points="123.5,323.7 127.5,323.5 131.0,323.4 134.5,323.6 138.0,323.5 141.6,323.8 145.1,323.4 148.4,324.3 152.0,324.0 155.5,323.5 158.9,323.7 162.4,323.7" fill="none" stroke="#0b8fd6" stroke-width="2.2" stroke-linejoin="round" />
<circle cx="123.5" cy="323.7" r="1.3" fill="#56b4e6" stroke="#0b8fd6" stroke-width="1.2"/><circle cx="127.5" cy="323.5" r="1.3" fill="#56b4e6" stroke="#0b8fd6" stroke-width="1.2"/><circle cx="131.0" cy="323.4" r="1.3" fill="#56b4e6" stroke="#0b8fd6" stroke-width="1.2"/><circle cx="134.5" cy="323.6" r="1.3" fill="#56b4e6" stroke="#0b8fd6" stroke-width="1.2"/><circle cx="138.0" cy="323.5" r="1.3" fill="#56b4e6" stroke="#0b8fd6" stroke-width="1.2"/><circle cx="141.6" cy="323.8" r="1.3" fill="#56b4e6" stroke="#0b8fd6" stroke-width="1.2"/><circle cx="145.1" cy="323.4" r="1.3" fill="#56b4e6" stroke="#0b8fd6" stroke-width="1.2"/><circle cx="148.4" cy="324.3" r="1.3" fill="#56b4e6" stroke="#0b8fd6" stroke-width="1.2"/><circle cx="152.0" cy="324.0" r="1.3" fill="#56b4e6" stroke="#0b8fd6" stroke-width="1.2"/><circle cx="155.5" cy="323.5" r="1.3" fill="#56b4e6" stroke="#0b8fd6" stroke-width="1.2"/><circle cx="158.9" cy="323.7" r="1.3" fill="#56b4e6" stroke="#0b8fd6" stroke-width="1.2"/><circle cx="162.4" cy="323.7" r="1.3" fill="#56b4e6" stroke="#0b8fd6" stroke-width="1.2"/>
<polyline points="169.5,323.8 172.7,323.5 176.5,324.2 180.0,324.4 183.6,323.9 187.1,323.9 190.5,323.5 193.8,323.5 197.3,323.7 200.8,323.7 204.4,324.2 207.9,323.6 211.4,323.4 215.0,324.4 218.5,323.9 222.0,323.5 225.6,323.9 229.1,323.4 232.6,323.9 236.2,324.4 239.7,324.3 243.2,324.1 246.6,323.7 250.1,323.8 253.6,323.6 257.2,324.2 260.7,323.9 264.2,324.2 267.8,323.7 271.3,323.6 274.7,324.2 278.1,324.4 281.7,324.3 285.2,324.2 288.7,324.2 292.1,324.1 295.6,323.6 299.2,323.9 302.7,323.8 306.2,323.4 309.8,323.4 313.1,323.7 316.6,323.7 320.2,324.1 323.7,324.4 327.3,323.8 330.6,324.3 334.3,324.4 337.9,324.4 341.2,323.8 344.7,323.6 348.2,323.6 351.7,323.6 355.3,323.6 358.8,324.0 362.3,324.3 365.9,324.2 369.4,323.9 372.6,324.1 375.9,324.2 379.4,323.5 383.0,324.1 386.5,324.3 390.0,324.2 393.5,324.2 397.1,323.9 400.6,323.6 404.1,324.2 407.7,323.7 411.2,324.2 414.7,324.4 418.3,323.8 421.8,323.8 425.3,324.3 428.7,324.1 432.2,323.6 435.8,323.5 439.3,323.6 442.8,324.3 446.4,324.2 449.9,323.5 453.4,324.2 456.7,324.4 460.3,324.1 463.8,323.8 467.3,323.9 470.9,323.5 474.4,323.4 477.9,324.4 481.3,324.0 484.8,323.9 488.4,324.3 491.9,323.8 495.4,324.3 498.7,324.2 502.3,323.6 506.0,323.7 509.5,323.7 512.9,323.6 516.4,324.0 519.9,323.7 523.4,323.8 527.0,323.5 530.5,324.3 534.0,323.8 537.4,323.9 541.0,324.0 544.3,324.3 547.8,323.8 551.2,324.3 554.9,323.9 558.4,323.9 561.8,323.9 565.3,323.4 568.8,323.8 572.3,323.6 575.8,323.4 579.4,324.2 582.9,323.6 586.3,323.9 589.7,324.1 593.2,324.0 596.7,323.7 600.3,323.9 603.8,324.0 607.5,324.2 610.9,323.5 614.4,324.0 617.8,320.0 621.2,320.0 625.0,323.6" fill="none" stroke="#0b8fd6" stroke-width="2.2" stroke-linejoin="round" />
<circle cx="169.5" cy="323.8" r="1.3" fill="#56b4e6" stroke="#0b8fd6" stroke-width="1.2"/><circle cx="172.7" cy="323.5" r="1.3" fill="#56b4e6" stroke="#0b8fd6" stroke-width="1.2"/><circle cx="176.5" cy="324.2" r="1.3" fill="#56b4e6" stroke="#0b8fd6" stroke-width="1.2"/><circle cx="180.0" cy="324.4" r="1.3" fill="#56b4e6" stroke="#0b8fd6" stroke-width="1.2"/><circle cx="183.6" cy="323.9" r="1.3" fill="#56b4e6" stroke="#0b8fd6" stroke-width="1.2"/><circle cx="187.1" cy="323.9" r="1.3" fill="#56b4e6" stroke="#0b8fd6" stroke-width="1.2"/><circle cx="190.5" cy="323.5" r="1.3" fill="#56b4e6" stroke="#0b8fd6" stroke-width="1.2"/><circle cx="193.8" cy="323.5" r="1.3" fill="#56b4e6" stroke="#0b8fd6" stroke-width="1.2"/><circle cx="197.3" cy="323.7" r="1.3" fill="#56b4e6" stroke="#0b8fd6" stroke-width="1.2"/><circle cx="200.8" cy="323.7" r="1.3" fill="#56b4e6" stroke="#0b8fd6" stroke-width="1.2"/><circle cx="204.4" cy="324.2" r="1.3" fill="#56b4e6" stroke="#0b8fd6" stroke-width="1.2"/><circle cx="207.9" cy="323.6" r="1.3" fill="#56b4e6" stroke="#0b8fd6" stroke-width="1.2"/><circle cx="211.4" cy="323.4" r="1.3" fill="#56b4e6" stroke="#0b8fd6" stroke-width="1.2"/><circle cx="215.0" cy="324.4" r="1.3" fill="#56b4e6" stroke="#0b8fd6" stroke-width="1.2"/><circle cx="218.5" cy="323.9" r="1.3" fill="#56b4e6" stroke="#0b8fd6" stroke-width="1.2"/><circle cx="222.0" cy="323.5" r="1.3" fill="#56b4e6" stroke="#0b8fd6" stroke-width="1.2"/><circle cx="225.6" cy="323.9" r="1.3" fill="#56b4e6" stroke="#0b8fd6" stroke-width="1.2"/><circle cx="229.1" cy="323.4" r="1.3" fill="#56b4e6" stroke="#0b8fd6" stroke-width="1.2"/><circle cx="232.6" cy="323.9" r="1.3" fill="#56b4e6" stroke="#0b8fd6" stroke-width="1.2"/><circle cx="236.2" cy="324.4" r="1.3" fill="#56b4e6" stroke="#0b8fd6" stroke-width="1.2"/><circle cx="239.7" cy="324.3" r="1.3" fill="#56b4e6" stroke="#0b8fd6" stroke-width="1.2"/><circle cx="243.2" cy="324.1" r="1.3" fill="#56b4e6" stroke="#0b8fd6" stroke-width="1.2"/><circle cx="246.6" cy="323.7" r="1.3" fill="#56b4e6" stroke="#0b8fd6" stroke-width="1.2"/><circle cx="250.1" cy="323.8" r="1.3" fill="#56b4e6" stroke="#0b8fd6" stroke-width="1.2"/><circle cx="253.6" cy="323.6" r="1.3" fill="#56b4e6" stroke="#0b8fd6" stroke-width="1.2"/><circle cx="257.2" cy="324.2" r="1.3" fill="#56b4e6" stroke="#0b8fd6" stroke-width="1.2"/><circle cx="260.7" cy="323.9" r="1.3" fill="#56b4e6" stroke="#0b8fd6" stroke-width="1.2"/><circle cx="264.2" cy="324.2" r="1.3" fill="#56b4e6" stroke="#0b8fd6" stroke-width="1.2"/><circle cx="267.8" cy="323.7" r="1.3" fill="#56b4e6" stroke="#0b8fd6" stroke-width="1.2"/><circle cx="271.3" cy="323.6" r="1.3" fill="#56b4e6" stroke="#0b8fd6" stroke-width="1.2"/><circle cx="274.7" cy="324.2" r="1.3" fill="#56b4e6" stroke="#0b8fd6" stroke-width="1.2"/><circle cx="278.1" cy="324.4" r="1.3" fill="#56b4e6" stroke="#0b8fd6" stroke-width="1.2"/><circle cx="281.7" cy="324.3" r="1.3" fill="#56b4e6" stroke="#0b8fd6" stroke-width="1.2"/><circle cx="285.2" cy="324.2" r="1.3" fill="#56b4e6" stroke="#0b8fd6" stroke-width="1.2"/><circle cx="288.7" cy="324.2" r="1.3" fill="#56b4e6" stroke="#0b8fd6" stroke-width="1.2"/><circle cx="292.1" cy="324.1" r="1.3" fill="#56b4e6" stroke="#0b8fd6" stroke-width="1.2"/><circle cx="295.6" cy="323.6" r="1.3" fill="#56b4e6" stroke="#0b8fd6" stroke-width="1.2"/><circle cx="299.2" cy="323.9" r="1.3" fill="#56b4e6" stroke="#0b8fd6" stroke-width="1.2"/><circle cx="302.7" cy="323.8" r="1.3" fill="#56b4e6" stroke="#0b8fd6" stroke-width="1.2"/><circle cx="306.2" cy="323.4" r="1.3" fill="#56b4e6" stroke="#0b8fd6" stroke-width="1.2"/><circle cx="309.8" cy="323.4" r="1.3" fill="#56b4e6" stroke="#0b8fd6" stroke-width="1.2"/><circle cx="313.1" cy="323.7" r="1.3" fill="#56b4e6" stroke="#0b8fd6" stroke-width="1.2"/><circle cx="316.6" cy="323.7" r="1.3" fill="#56b4e6" stroke="#0b8fd6" stroke-width="1.2"/><circle cx="320.2" cy="324.1" r="1.3" fill="#56b4e6" stroke="#0b8fd6" stroke-width="1.2"/><circle cx="323.7" cy="324.4" r="1.3" fill="#56b4e6" stroke="#0b8fd6" stroke-width="1.2"/><circle cx="327.3" cy="323.8" r="1.3" fill="#56b4e6" stroke="#0b8fd6" stroke-width="1.2"/><circle cx="330.6" cy="324.3" r="1.3" fill="#56b4e6" stroke="#0b8fd6" stroke-width="1.2"/><circle cx="334.3" cy="324.4" r="1.3" fill="#56b4e6" stroke="#0b8fd6" stroke-width="1.2"/><circle cx="337.9" cy="324.4" r="1.3" fill="#56b4e6" stroke="#0b8fd6" stroke-width="1.2"/><circle cx="341.2" cy="323.8" r="1.3" fill="#56b4e6" stroke="#0b8fd6" stroke-width="1.2"/><circle cx="344.7" cy="323.6" r="1.3" fill="#56b4e6" stroke="#0b8fd6" stroke-width="1.2"/><circle cx="348.2" cy="323.6" r="1.3" fill="#56b4e6" stroke="#0b8fd6" stroke-width="1.2"/><circle cx="351.7" cy="323.6" r="1.3" fill="#56b4e6" stroke="#0b8fd6" stroke-width="1.2"/><circle cx="355.3" cy="323.6" r="1.3" fill="#56b4e6" stroke="#0b8fd6" stroke-width="1.2"/><circle cx="358.8" cy="324.0" r="1.3" fill="#56b4e6" stroke="#0b8fd6" stroke-width="1.2"/><circle cx="362.3" cy="324.3" r="1.3" fill="#56b4e6" stroke="#0b8fd6" stroke-width="1.2"/><circle cx="365.9" cy="324.2" r="1.3" fill="#56b4e6" stroke="#0b8fd6" stroke-width="1.2"/><circle cx="369.4" cy="323.9" r="1.3" fill="#56b4e6" stroke="#0b8fd6" stroke-width="1.2"/><circle cx="372.6" cy="324.1" r="1.3" fill="#56b4e6" stroke="#0b8fd6" stroke-width="1.2"/><circle cx="375.9" cy="324.2" r="1.3" fill="#56b4e6" stroke="#0b8fd6" stroke-width="1.2"/><circle cx="379.4" cy="323.5" r="1.3" fill="#56b4e6" stroke="#0b8fd6" stroke-width="1.2"/><circle cx="383.0" cy="324.1" r="1.3" fill="#56b4e6" stroke="#0b8fd6" stroke-width="1.2"/><circle cx="386.5" cy="324.3" r="1.3" fill="#56b4e6" stroke="#0b8fd6" stroke-width="1.2"/><circle cx="390.0" cy="324.2" r="1.3" fill="#56b4e6" stroke="#0b8fd6" stroke-width="1.2"/><circle cx="393.5" cy="324.2" r="1.3" fill="#56b4e6" stroke="#0b8fd6" stroke-width="1.2"/><circle cx="397.1" cy="323.9" r="1.3" fill="#56b4e6" stroke="#0b8fd6" stroke-width="1.2"/><circle cx="400.6" cy="323.6" r="1.3" fill="#56b4e6" stroke="#0b8fd6" stroke-width="1.2"/><circle cx="404.1" cy="324.2" r="1.3" fill="#56b4e6" stroke="#0b8fd6" stroke-width="1.2"/><circle cx="407.7" cy="323.7" r="1.3" fill="#56b4e6" stroke="#0b8fd6" stroke-width="1.2"/><circle cx="411.2" cy="324.2" r="1.3" fill="#56b4e6" stroke="#0b8fd6" stroke-width="1.2"/><circle cx="414.7" cy="324.4" r="1.3" fill="#56b4e6" stroke="#0b8fd6" stroke-width="1.2"/><circle cx="418.3" cy="323.8" r="1.3" fill="#56b4e6" stroke="#0b8fd6" stroke-width="1.2"/><circle cx="421.8" cy="323.8" r="1.3" fill="#56b4e6" stroke="#0b8fd6" stroke-width="1.2"/><circle cx="425.3" cy="324.3" r="1.3" fill="#56b4e6" stroke="#0b8fd6" stroke-width="1.2"/><circle cx="428.7" cy="324.1" r="1.3" fill="#56b4e6" stroke="#0b8fd6" stroke-width="1.2"/><circle cx="432.2" cy="323.6" r="1.3" fill="#56b4e6" stroke="#0b8fd6" stroke-width="1.2"/><circle cx="435.8" cy="323.5" r="1.3" fill="#56b4e6" stroke="#0b8fd6" stroke-width="1.2"/><circle cx="439.3" cy="323.6" r="1.3" fill="#56b4e6" stroke="#0b8fd6" stroke-width="1.2"/><circle cx="442.8" cy="324.3" r="1.3" fill="#56b4e6" stroke="#0b8fd6" stroke-width="1.2"/><circle cx="446.4" cy="324.2" r="1.3" fill="#56b4e6" stroke="#0b8fd6" stroke-width="1.2"/><circle cx="449.9" cy="323.5" r="1.3" fill="#56b4e6" stroke="#0b8fd6" stroke-width="1.2"/><circle cx="453.4" cy="324.2" r="1.3" fill="#56b4e6" stroke="#0b8fd6" stroke-width="1.2"/><circle cx="456.7" cy="324.4" r="1.3" fill="#56b4e6" stroke="#0b8fd6" stroke-width="1.2"/><circle cx="460.3" cy="324.1" r="1.3" fill="#56b4e6" stroke="#0b8fd6" stroke-width="1.2"/><circle cx="463.8" cy="323.8" r="1.3" fill="#56b4e6" stroke="#0b8fd6" stroke-width="1.2"/><circle cx="467.3" cy="323.9" r="1.3" fill="#56b4e6" stroke="#0b8fd6" stroke-width="1.2"/><circle cx="470.9" cy="323.5" r="1.3" fill="#56b4e6" stroke="#0b8fd6" stroke-width="1.2"/><circle cx="474.4" cy="323.4" r="1.3" fill="#56b4e6" stroke="#0b8fd6" stroke-width="1.2"/><circle cx="477.9" cy="324.4" r="1.3" fill="#56b4e6" stroke="#0b8fd6" stroke-width="1.2"/><circle cx="481.3" cy="324.0" r="1.3" fill="#56b4e6" stroke="#0b8fd6" stroke-width="1.2"/><circle cx="484.8" cy="323.9" r="1.3" fill="#56b4e6" stroke="#0b8fd6" stroke-width="1.2"/><circle cx="488.4" cy="324.3" r="1.3" fill="#56b4e6" stroke="#0b8fd6" stroke-width="1.2"/><circle cx="491.9" cy="323.8" r="1.3" fill="#56b4e6" stroke="#0b8fd6" stroke-width="1.2"/><circle cx="495.4" cy="324.3" r="1.3" fill="#56b4e6" stroke="#0b8fd6" stroke-width="1.2"/><circle cx="498.7" cy="324.2" r="1.3" fill="#56b4e6" stroke="#0b8fd6" stroke-width="1.2"/><circle cx="502.3" cy="323.6" r="1.3" fill="#56b4e6" stroke="#0b8fd6" stroke-width="1.2"/><circle cx="506.0" cy="323.7" r="1.3" fill="#56b4e6" stroke="#0b8fd6" stroke-width="1.2"/><circle cx="509.5" cy="323.7" r="1.3" fill="#56b4e6" stroke="#0b8fd6" stroke-width="1.2"/><circle cx="512.9" cy="323.6" r="1.3" fill="#56b4e6" stroke="#0b8fd6" stroke-width="1.2"/><circle cx="516.4" cy="324.0" r="1.3" fill="#56b4e6" stroke="#0b8fd6" stroke-width="1.2"/><circle cx="519.9" cy="323.7" r="1.3" fill="#56b4e6" stroke="#0b8fd6" stroke-width="1.2"/><circle cx="523.4" cy="323.8" r="1.3" fill="#56b4e6" stroke="#0b8fd6" stroke-width="1.2"/><circle cx="527.0" cy="323.5" r="1.3" fill="#56b4e6" stroke="#0b8fd6" stroke-width="1.2"/><circle cx="530.5" cy="324.3" r="1.3" fill="#56b4e6" stroke="#0b8fd6" stroke-width="1.2"/><circle cx="534.0" cy="323.8" r="1.3" fill="#56b4e6" stroke="#0b8fd6" stroke-width="1.2"/><circle cx="537.4" cy="323.9" r="1.3" fill="#56b4e6" stroke="#0b8fd6" stroke-width="1.2"/><circle cx="541.0" cy="324.0" r="1.3" fill="#56b4e6" stroke="#0b8fd6" stroke-width="1.2"/><circle cx="544.3" cy="324.3" r="1.3" fill="#56b4e6" stroke="#0b8fd6" stroke-width="1.2"/><circle cx="547.8" cy="323.8" r="1.3" fill="#56b4e6" stroke="#0b8fd6" stroke-width="1.2"/><circle cx="551.2" cy="324.3" r="1.3" fill="#56b4e6" stroke="#0b8fd6" stroke-width="1.2"/><circle cx="554.9" cy="323.9" r="1.3" fill="#56b4e6" stroke="#0b8fd6" stroke-width="1.2"/><circle cx="558.4" cy="323.9" r="1.3" fill="#56b4e6" stroke="#0b8fd6" stroke-width="1.2"/><circle cx="561.8" cy="323.9" r="1.3" fill="#56b4e6" stroke="#0b8fd6" stroke-width="1.2"/><circle cx="565.3" cy="323.4" r="1.3" fill="#56b4e6" stroke="#0b8fd6" stroke-width="1.2"/><circle cx="568.8" cy="323.8" r="1.3" fill="#56b4e6" stroke="#0b8fd6" stroke-width="1.2"/><circle cx="572.3" cy="323.6" r="1.3" fill="#56b4e6" stroke="#0b8fd6" stroke-width="1.2"/><circle cx="575.8" cy="323.4" r="1.3" fill="#56b4e6" stroke="#0b8fd6" stroke-width="1.2"/><circle cx="579.4" cy="324.2" r="1.3" fill="#56b4e6" stroke="#0b8fd6" stroke-width="1.2"/><circle cx="582.9" cy="323.6" r="1.3" fill="#56b4e6" stroke="#0b8fd6" stroke-width="1.2"/><circle cx="586.3" cy="323.9" r="1.3" fill="#56b4e6" stroke="#0b8fd6" stroke-width="1.2"/><circle cx="589.7" cy="324.1" r="1.3" fill="#56b4e6" stroke="#0b8fd6" stroke-width="1.2"/><circle cx="593.2" cy="324.0" r="1.3" fill="#56b4e6" stroke="#0b8fd6" stroke-width="1.2"/><circle cx="596.7" cy="323.7" r="1.3" fill="#56b4e6" stroke="#0b8fd6" stroke-width="1.2"/><circle cx="600.3" cy="323.9" r="1.3" fill="#56b4e6" stroke="#0b8fd6" stroke-width="1.2"/><circle cx="603.8" cy="324.0" r="1.3" fill="#56b4e6" stroke="#0b8fd6" stroke-width="1.2"/><circle cx="607.5" cy="324.2" r="1.3" fill="#56b4e6" stroke="#0b8fd6" stroke-width="1.2"/><circle cx="610.9" cy="323.5" r="1.3" fill="#56b4e6" stroke="#0b8fd6" stroke-width="1.2"/><circle cx="614.4" cy="324.0" r="1.3" fill="#56b4e6" stroke="#0b8fd6" stroke-width="1.2"/><circle cx="617.8" cy="320.0" r="1.3" fill="#56b4e6" stroke="#0b8fd6" stroke-width="1.2"/><circle cx="621.2" cy="320.0" r="1.3" fill="#56b4e6" stroke="#0b8fd6" stroke-width="1.2"/><circle cx="625.0" cy="323.6" r="1.3" fill="#56b4e6" stroke="#0b8fd6" stroke-width="1.2"/>
<polyline points="123.5,313.2 127.5,315.3 131.0,313.2 134.5,311.2 138.0,312.0 141.6,314.5 145.1,313.2 148.4,309.6 152.0,313.5 155.5,306.1 158.9,312.8 162.4,312.6" fill="none" stroke="#fb8c00" stroke-width="2.2" stroke-linejoin="round" />
<circle cx="123.5" cy="313.2" r="1.3" fill="#fdbf73" stroke="#fb8c00" stroke-width="1.2"/><circle cx="127.5" cy="315.3" r="1.3" fill="#fdbf73" stroke="#fb8c00" stroke-width="1.2"/><circle cx="131.0" cy="313.2" r="1.3" fill="#fdbf73" stroke="#fb8c00" stroke-width="1.2"/><circle cx="134.5" cy="311.2" r="1.3" fill="#fdbf73" stroke="#fb8c00" stroke-width="1.2"/><circle cx="138.0" cy="312.0" r="1.3" fill="#fdbf73" stroke="#fb8c00" stroke-width="1.2"/><circle cx="141.6" cy="314.5" r="1.3" fill="#fdbf73" stroke="#fb8c00" stroke-width="1.2"/><circle cx="145.1" cy="313.2" r="1.3" fill="#fdbf73" stroke="#fb8c00" stroke-width="1.2"/><circle cx="148.4" cy="309.6" r="1.3" fill="#fdbf73" stroke="#fb8c00" stroke-width="1.2"/><circle cx="152.0" cy="313.5" r="1.3" fill="#fdbf73" stroke="#fb8c00" stroke-width="1.2"/><circle cx="155.5" cy="306.1" r="1.3" fill="#fdbf73" stroke="#fb8c00" stroke-width="1.2"/><circle cx="158.9" cy="312.8" r="1.3" fill="#fdbf73" stroke="#fb8c00" stroke-width="1.2"/><circle cx="162.4" cy="312.6" r="1.3" fill="#fdbf73" stroke="#fb8c00" stroke-width="1.2"/>
<polyline points="169.5,310.3 172.7,313.2 176.5,313.5 180.0,313.9 183.6,313.9 187.1,312.4 190.5,314.5 193.8,312.0 197.3,313.5 200.8,315.5 204.4,313.9 207.9,311.0 211.4,312.0 215.0,312.4 218.5,313.2 222.0,313.5 225.6,315.0 229.1,308.4 232.6,313.5 236.2,313.2 239.7,312.4 243.2,315.5 246.6,313.3 250.1,314.7 253.6,313.6 257.2,310.9 260.7,312.9 264.2,313.9 267.8,314.7 271.3,308.5 274.7,314.4 278.1,312.9 281.7,313.3 285.2,314.7 288.7,314.4 292.1,309.3 295.6,312.5 299.2,314.8 302.7,316.0 306.2,312.5 309.8,315.2 313.1,310.3 316.6,314.8 320.2,312.9 323.7,314.7 327.3,314.4 330.6,308.2 334.3,310.1 337.9,312.5 341.2,315.2 344.7,315.2 348.2,316.0 351.7,314.0 355.3,312.1 358.8,314.4 362.3,313.9 365.9,314.0 369.4,313.3 372.6,315.8 375.9,310.9 379.4,307.0 383.0,310.9 386.5,314.0 390.0,312.9 393.5,308.5 397.1,296.4 400.6,309.3 404.1,313.3 407.7,312.1 411.2,315.2 414.7,312.9 418.3,311.3 421.8,312.9 425.3,309.3 428.7,306.2 432.2,309.3 435.8,303.4 439.3,308.2 442.8,310.5 446.4,312.5 449.9,312.5 453.4,314.4 456.7,315.2 460.3,312.1 463.8,314.4 467.3,312.1 470.9,312.5 474.4,312.1 477.9,313.3 481.3,314.0 484.8,310.1 488.4,307.4 491.9,309.3 495.4,308.5 498.7,310.7 502.3,308.2 506.0,311.9 509.5,311.5 512.9,310.3 516.4,310.4 519.9,308.2 523.4,302.3 527.0,310.4 530.5,306.4 534.0,304.4 537.4,309.4 541.0,308.2 544.3,293.6 547.8,305.4 551.2,309.4 554.9,307.7 558.4,310.7 561.8,314.3 565.3,313.1 568.8,312.3 572.3,308.2 575.8,314.3 579.4,311.5 582.9,312.3 586.3,312.3 589.7,303.3 593.2,310.3 596.7,313.1 600.3,313.9 603.8,313.5 607.5,314.7 610.9,311.5 614.4,316.0 617.8,233.0 621.2,163.5 625.0,313.9" fill="none" stroke="#fb8c00" stroke-width="2.2" stroke-linejoin="round" />
<circle cx="169.5" cy="310.3" r="1.3" fill="#fdbf73" stroke="#fb8c00" stroke-width="1.2"/><circle cx="172.7" cy="313.2" r="1.3" fill="#fdbf73" stroke="#fb8c00" stroke-width="1.2"/><circle cx="176.5" cy="313.5" r="1.3" fill="#fdbf73" stroke="#fb8c00" stroke-width="1.2"/><circle cx="180.0" cy="313.9" r="1.3" fill="#fdbf73" stroke="#fb8c00" stroke-width="1.2"/><circle cx="183.6" cy="313.9" r="1.3" fill="#fdbf73" stroke="#fb8c00" stroke-width="1.2"/><circle cx="187.1" cy="312.4" r="1.3" fill="#fdbf73" stroke="#fb8c00" stroke-width="1.2"/><circle cx="190.5" cy="314.5" r="1.3" fill="#fdbf73" stroke="#fb8c00" stroke-width="1.2"/><circle cx="193.8" cy="312.0" r="1.3" fill="#fdbf73" stroke="#fb8c00" stroke-width="1.2"/><circle cx="197.3" cy="313.5" r="1.3" fill="#fdbf73" stroke="#fb8c00" stroke-width="1.2"/><circle cx="200.8" cy="315.5" r="1.3" fill="#fdbf73" stroke="#fb8c00" stroke-width="1.2"/><circle cx="204.4" cy="313.9" r="1.3" fill="#fdbf73" stroke="#fb8c00" stroke-width="1.2"/><circle cx="207.9" cy="311.0" r="1.3" fill="#fdbf73" stroke="#fb8c00" stroke-width="1.2"/><circle cx="211.4" cy="312.0" r="1.3" fill="#fdbf73" stroke="#fb8c00" stroke-width="1.2"/><circle cx="215.0" cy="312.4" r="1.3" fill="#fdbf73" stroke="#fb8c00" stroke-width="1.2"/><circle cx="218.5" cy="313.2" r="1.3" fill="#fdbf73" stroke="#fb8c00" stroke-width="1.2"/><circle cx="222.0" cy="313.5" r="1.3" fill="#fdbf73" stroke="#fb8c00" stroke-width="1.2"/><circle cx="225.6" cy="315.0" r="1.3" fill="#fdbf73" stroke="#fb8c00" stroke-width="1.2"/><circle cx="229.1" cy="308.4" r="1.3" fill="#fdbf73" stroke="#fb8c00" stroke-width="1.2"/><circle cx="232.6" cy="313.5" r="1.3" fill="#fdbf73" stroke="#fb8c00" stroke-width="1.2"/><circle cx="236.2" cy="313.2" r="1.3" fill="#fdbf73" stroke="#fb8c00" stroke-width="1.2"/><circle cx="239.7" cy="312.4" r="1.3" fill="#fdbf73" stroke="#fb8c00" stroke-width="1.2"/><circle cx="243.2" cy="315.5" r="1.3" fill="#fdbf73" stroke="#fb8c00" stroke-width="1.2"/><circle cx="246.6" cy="313.3" r="1.3" fill="#fdbf73" stroke="#fb8c00" stroke-width="1.2"/><circle cx="250.1" cy="314.7" r="1.3" fill="#fdbf73" stroke="#fb8c00" stroke-width="1.2"/><circle cx="253.6" cy="313.6" r="1.3" fill="#fdbf73" stroke="#fb8c00" stroke-width="1.2"/><circle cx="257.2" cy="310.9" r="1.3" fill="#fdbf73" stroke="#fb8c00" stroke-width="1.2"/><circle cx="260.7" cy="312.9" r="1.3" fill="#fdbf73" stroke="#fb8c00" stroke-width="1.2"/><circle cx="264.2" cy="313.9" r="1.3" fill="#fdbf73" stroke="#fb8c00" stroke-width="1.2"/><circle cx="267.8" cy="314.7" r="1.3" fill="#fdbf73" stroke="#fb8c00" stroke-width="1.2"/><circle cx="271.3" cy="308.5" r="1.3" fill="#fdbf73" stroke="#fb8c00" stroke-width="1.2"/><circle cx="274.7" cy="314.4" r="1.3" fill="#fdbf73" stroke="#fb8c00" stroke-width="1.2"/><circle cx="278.1" cy="312.9" r="1.3" fill="#fdbf73" stroke="#fb8c00" stroke-width="1.2"/><circle cx="281.7" cy="313.3" r="1.3" fill="#fdbf73" stroke="#fb8c00" stroke-width="1.2"/><circle cx="285.2" cy="314.7" r="1.3" fill="#fdbf73" stroke="#fb8c00" stroke-width="1.2"/><circle cx="288.7" cy="314.4" r="1.3" fill="#fdbf73" stroke="#fb8c00" stroke-width="1.2"/><circle cx="292.1" cy="309.3" r="1.3" fill="#fdbf73" stroke="#fb8c00" stroke-width="1.2"/><circle cx="295.6" cy="312.5" r="1.3" fill="#fdbf73" stroke="#fb8c00" stroke-width="1.2"/><circle cx="299.2" cy="314.8" r="1.3" fill="#fdbf73" stroke="#fb8c00" stroke-width="1.2"/><circle cx="302.7" cy="316.0" r="1.3" fill="#fdbf73" stroke="#fb8c00" stroke-width="1.2"/><circle cx="306.2" cy="312.5" r="1.3" fill="#fdbf73" stroke="#fb8c00" stroke-width="1.2"/><circle cx="309.8" cy="315.2" r="1.3" fill="#fdbf73" stroke="#fb8c00" stroke-width="1.2"/><circle cx="313.1" cy="310.3" r="1.3" fill="#fdbf73" stroke="#fb8c00" stroke-width="1.2"/><circle cx="316.6" cy="314.8" r="1.3" fill="#fdbf73" stroke="#fb8c00" stroke-width="1.2"/><circle cx="320.2" cy="312.9" r="1.3" fill="#fdbf73" stroke="#fb8c00" stroke-width="1.2"/><circle cx="323.7" cy="314.7" r="1.3" fill="#fdbf73" stroke="#fb8c00" stroke-width="1.2"/><circle cx="327.3" cy="314.4" r="1.3" fill="#fdbf73" stroke="#fb8c00" stroke-width="1.2"/><circle cx="330.6" cy="308.2" r="1.3" fill="#fdbf73" stroke="#fb8c00" stroke-width="1.2"/><circle cx="334.3" cy="310.1" r="1.3" fill="#fdbf73" stroke="#fb8c00" stroke-width="1.2"/><circle cx="337.9" cy="312.5" r="1.3" fill="#fdbf73" stroke="#fb8c00" stroke-width="1.2"/><circle cx="341.2" cy="315.2" r="1.3" fill="#fdbf73" stroke="#fb8c00" stroke-width="1.2"/><circle cx="344.7" cy="315.2" r="1.3" fill="#fdbf73" stroke="#fb8c00" stroke-width="1.2"/><circle cx="348.2" cy="316.0" r="1.3" fill="#fdbf73" stroke="#fb8c00" stroke-width="1.2"/><circle cx="351.7" cy="314.0" r="1.3" fill="#fdbf73" stroke="#fb8c00" stroke-width="1.2"/><circle cx="355.3" cy="312.1" r="1.3" fill="#fdbf73" stroke="#fb8c00" stroke-width="1.2"/><circle cx="358.8" cy="314.4" r="1.3" fill="#fdbf73" stroke="#fb8c00" stroke-width="1.2"/><circle cx="362.3" cy="313.9" r="1.3" fill="#fdbf73" stroke="#fb8c00" stroke-width="1.2"/><circle cx="365.9" cy="314.0" r="1.3" fill="#fdbf73" stroke="#fb8c00" stroke-width="1.2"/><circle cx="369.4" cy="313.3" r="1.3" fill="#fdbf73" stroke="#fb8c00" stroke-width="1.2"/><circle cx="372.6" cy="315.8" r="1.3" fill="#fdbf73" stroke="#fb8c00" stroke-width="1.2"/><circle cx="375.9" cy="310.9" r="1.3" fill="#fdbf73" stroke="#fb8c00" stroke-width="1.2"/><circle cx="379.4" cy="307.0" r="1.3" fill="#fdbf73" stroke="#fb8c00" stroke-width="1.2"/><circle cx="383.0" cy="310.9" r="1.3" fill="#fdbf73" stroke="#fb8c00" stroke-width="1.2"/><circle cx="386.5" cy="314.0" r="1.3" fill="#fdbf73" stroke="#fb8c00" stroke-width="1.2"/><circle cx="390.0" cy="312.9" r="1.3" fill="#fdbf73" stroke="#fb8c00" stroke-width="1.2"/><circle cx="393.5" cy="308.5" r="1.3" fill="#fdbf73" stroke="#fb8c00" stroke-width="1.2"/><circle cx="397.1" cy="296.4" r="1.3" fill="#fdbf73" stroke="#fb8c00" stroke-width="1.2"/><circle cx="400.6" cy="309.3" r="1.3" fill="#fdbf73" stroke="#fb8c00" stroke-width="1.2"/><circle cx="404.1" cy="313.3" r="1.3" fill="#fdbf73" stroke="#fb8c00" stroke-width="1.2"/><circle cx="407.7" cy="312.1" r="1.3" fill="#fdbf73" stroke="#fb8c00" stroke-width="1.2"/><circle cx="411.2" cy="315.2" r="1.3" fill="#fdbf73" stroke="#fb8c00" stroke-width="1.2"/><circle cx="414.7" cy="312.9" r="1.3" fill="#fdbf73" stroke="#fb8c00" stroke-width="1.2"/><circle cx="418.3" cy="311.3" r="1.3" fill="#fdbf73" stroke="#fb8c00" stroke-width="1.2"/><circle cx="421.8" cy="312.9" r="1.3" fill="#fdbf73" stroke="#fb8c00" stroke-width="1.2"/><circle cx="425.3" cy="309.3" r="1.3" fill="#fdbf73" stroke="#fb8c00" stroke-width="1.2"/><circle cx="428.7" cy="306.2" r="1.3" fill="#fdbf73" stroke="#fb8c00" stroke-width="1.2"/><circle cx="432.2" cy="309.3" r="1.3" fill="#fdbf73" stroke="#fb8c00" stroke-width="1.2"/><circle cx="435.8" cy="303.4" r="1.3" fill="#fdbf73" stroke="#fb8c00" stroke-width="1.2"/><circle cx="439.3" cy="308.2" r="1.3" fill="#fdbf73" stroke="#fb8c00" stroke-width="1.2"/><circle cx="442.8" cy="310.5" r="1.3" fill="#fdbf73" stroke="#fb8c00" stroke-width="1.2"/><circle cx="446.4" cy="312.5" r="1.3" fill="#fdbf73" stroke="#fb8c00" stroke-width="1.2"/><circle cx="449.9" cy="312.5" r="1.3" fill="#fdbf73" stroke="#fb8c00" stroke-width="1.2"/><circle cx="453.4" cy="314.4" r="1.3" fill="#fdbf73" stroke="#fb8c00" stroke-width="1.2"/><circle cx="456.7" cy="315.2" r="1.3" fill="#fdbf73" stroke="#fb8c00" stroke-width="1.2"/><circle cx="460.3" cy="312.1" r="1.3" fill="#fdbf73" stroke="#fb8c00" stroke-width="1.2"/><circle cx="463.8" cy="314.4" r="1.3" fill="#fdbf73" stroke="#fb8c00" stroke-width="1.2"/><circle cx="467.3" cy="312.1" r="1.3" fill="#fdbf73" stroke="#fb8c00" stroke-width="1.2"/><circle cx="470.9" cy="312.5" r="1.3" fill="#fdbf73" stroke="#fb8c00" stroke-width="1.2"/><circle cx="474.4" cy="312.1" r="1.3" fill="#fdbf73" stroke="#fb8c00" stroke-width="1.2"/><circle cx="477.9" cy="313.3" r="1.3" fill="#fdbf73" stroke="#fb8c00" stroke-width="1.2"/><circle cx="481.3" cy="314.0" r="1.3" fill="#fdbf73" stroke="#fb8c00" stroke-width="1.2"/><circle cx="484.8" cy="310.1" r="1.3" fill="#fdbf73" stroke="#fb8c00" stroke-width="1.2"/><circle cx="488.4" cy="307.4" r="1.3" fill="#fdbf73" stroke="#fb8c00" stroke-width="1.2"/><circle cx="491.9" cy="309.3" r="1.3" fill="#fdbf73" stroke="#fb8c00" stroke-width="1.2"/><circle cx="495.4" cy="308.5" r="1.3" fill="#fdbf73" stroke="#fb8c00" stroke-width="1.2"/><circle cx="498.7" cy="310.7" r="1.3" fill="#fdbf73" stroke="#fb8c00" stroke-width="1.2"/><circle cx="502.3" cy="308.2" r="1.3" fill="#fdbf73" stroke="#fb8c00" stroke-width="1.2"/><circle cx="506.0" cy="311.9" r="1.3" fill="#fdbf73" stroke="#fb8c00" stroke-width="1.2"/><circle cx="509.5" cy="311.5" r="1.3" fill="#fdbf73" stroke="#fb8c00" stroke-width="1.2"/><circle cx="512.9" cy="310.3" r="1.3" fill="#fdbf73" stroke="#fb8c00" stroke-width="1.2"/><circle cx="516.4" cy="310.4" r="1.3" fill="#fdbf73" stroke="#fb8c00" stroke-width="1.2"/><circle cx="519.9" cy="308.2" r="1.3" fill="#fdbf73" stroke="#fb8c00" stroke-width="1.2"/><circle cx="523.4" cy="302.3" r="1.3" fill="#fdbf73" stroke="#fb8c00" stroke-width="1.2"/><circle cx="527.0" cy="310.4" r="1.3" fill="#fdbf73" stroke="#fb8c00" stroke-width="1.2"/><circle cx="530.5" cy="306.4" r="1.3" fill="#fdbf73" stroke="#fb8c00" stroke-width="1.2"/><circle cx="534.0" cy="304.4" r="1.3" fill="#fdbf73" stroke="#fb8c00" stroke-width="1.2"/><circle cx="537.4" cy="309.4" r="1.3" fill="#fdbf73" stroke="#fb8c00" stroke-width="1.2"/><circle cx="541.0" cy="308.2" r="1.3" fill="#fdbf73" stroke="#fb8c00" stroke-width="1.2"/><circle cx="544.3" cy="293.6" r="1.3" fill="#fdbf73" stroke="#fb8c00" stroke-width="1.2"/><circle cx="547.8" cy="305.4" r="1.3" fill="#fdbf73" stroke="#fb8c00" stroke-width="1.2"/><circle cx="551.2" cy="309.4" r="1.3" fill="#fdbf73" stroke="#fb8c00" stroke-width="1.2"/><circle cx="554.9" cy="307.7" r="1.3" fill="#fdbf73" stroke="#fb8c00" stroke-width="1.2"/><circle cx="558.4" cy="310.7" r="1.3" fill="#fdbf73" stroke="#fb8c00" stroke-width="1.2"/><circle cx="561.8" cy="314.3" r="1.3" fill="#fdbf73" stroke="#fb8c00" stroke-width="1.2"/><circle cx="565.3" cy="313.1" r="1.3" fill="#fdbf73" stroke="#fb8c00" stroke-width="1.2"/><circle cx="568.8" cy="312.3" r="1.3" fill="#fdbf73" stroke="#fb8c00" stroke-width="1.2"/><circle cx="572.3" cy="308.2" r="1.3" fill="#fdbf73" stroke="#fb8c00" stroke-width="1.2"/><circle cx="575.8" cy="314.3" r="1.3" fill="#fdbf73" stroke="#fb8c00" stroke-width="1.2"/><circle cx="579.4" cy="311.5" r="1.3" fill="#fdbf73" stroke="#fb8c00" stroke-width="1.2"/><circle cx="582.9" cy="312.3" r="1.3" fill="#fdbf73" stroke="#fb8c00" stroke-width="1.2"/><circle cx="586.3" cy="312.3" r="1.3" fill="#fdbf73" stroke="#fb8c00" stroke-width="1.2"/><circle cx="589.7" cy="303.3" r="1.3" fill="#fdbf73" stroke="#fb8c00" stroke-width="1.2"/><circle cx="593.2" cy="310.3" r="1.3" fill="#fdbf73" stroke="#fb8c00" stroke-width="1.2"/><circle cx="596.7" cy="313.1" r="1.3" fill="#fdbf73" stroke="#fb8c00" stroke-width="1.2"/><circle cx="600.3" cy="313.9" r="1.3" fill="#fdbf73" stroke="#fb8c00" stroke-width="1.2"/><circle cx="603.8" cy="313.5" r="1.3" fill="#fdbf73" stroke="#fb8c00" stroke-width="1.2"/><circle cx="607.5" cy="314.7" r="1.3" fill="#fdbf73" stroke="#fb8c00" stroke-width="1.2"/><circle cx="610.9" cy="311.5" r="1.3" fill="#fdbf73" stroke="#fb8c00" stroke-width="1.2"/><circle cx="614.4" cy="316.0" r="1.3" fill="#fdbf73" stroke="#fb8c00" stroke-width="1.2"/><circle cx="617.8" cy="233.0" r="1.3" fill="#fdbf73" stroke="#fb8c00" stroke-width="1.2"/><circle cx="621.2" cy="163.5" r="1.3" fill="#fdbf73" stroke="#fb8c00" stroke-width="1.2"/><circle cx="625.0" cy="313.9" r="1.3" fill="#fdbf73" stroke="#fb8c00" stroke-width="1.2"/>
</g>
<line x1="907" y1="143.5" x2="1421" y2="143.5" stroke="rgba(0,0,0,0.2)" stroke-width="1"/>
<line x1="907" y1="174.5" x2="1421" y2="174.5" stroke="rgba(0,0,0,0.2)" stroke-width="1"/>
<line x1="907" y1="205.5" x2="1421" y2="205.5" stroke="rgba(0,0,0,0.2)" stroke-width="1"/>
<line x1="907" y1="235.5" x2="1421" y2="235.5" stroke="rgba(0,0,0,0.2)" stroke-width="1"/>
<line x1="907" y1="266.5" x2="1421" y2="266.5" stroke="rgba(0,0,0,0.2)" stroke-width="1"/>
<line x1="907" y1="297.5" x2="1421" y2="297.5" stroke="rgba(0,0,0,0.2)" stroke-width="1"/>
<line x1="950.5" y1="113" x2="950.5" y2="328" stroke="rgba(0,0,0,0.2)" stroke-width="1"/>
<line x1="1036.5" y1="113" x2="1036.5" y2="328" stroke="rgba(0,0,0,0.2)" stroke-width="1"/>
<line x1="1122.5" y1="113" x2="1122.5" y2="328" stroke="rgba(0,0,0,0.2)" stroke-width="1"/>
<line x1="1208.5" y1="113" x2="1208.5" y2="328" stroke="rgba(0,0,0,0.2)" stroke-width="1"/>
<line x1="1295.5" y1="113" x2="1295.5" y2="328" stroke="rgba(0,0,0,0.2)" stroke-width="1"/>
<line x1="1381.5" y1="113" x2="1381.5" y2="328" stroke="rgba(0,0,0,0.2)" stroke-width="1"/>
<rect x="906.5" y="112.5" width="515" height="216" fill="none" stroke="rgba(0,0,0,0.21)" stroke-width="1"/>
<polyline points="910.7,324.6 914.1,323.0 917.6,324.2 921.3,320.9 925.0,325.0 928.5,323.0 932.1,325.0 935.8,323.4 939.4,323.8 942.9,322.8 946.4,324.2" fill="none" stroke="#f9a10f" stroke-width="2" stroke-linejoin="round" />
<polyline points="957.6,323.8 961.1,322.8 964.5,322.2 968.0,324.0 971.7,321.7 975.3,323.0 978.8,324.2 982.3,323.8 985.8,323.8 989.4,323.4 993.0,323.4 996.7,324.0 1000.2,324.6 1003.8,324.2 1007.5,322.6 1011.1,324.2 1014.9,324.4 1018.3,324.4 1022.0,323.0 1025.5,325.0 1028.9,323.0 1032.5,322.3 1036.3,324.4 1039.7,323.6 1043.6,323.0 1047.2,322.6 1050.6,323.0 1054.2,324.4 1057.8,323.8 1061.5,323.4 1065.2,322.8 1068.6,322.8 1072.1,323.0 1075.7,324.6 1079.4,321.3 1083.1,322.8 1086.8,323.0 1090.4,323.6 1093.8,323.8 1097.3,324.0 1100.9,322.8 1104.4,323.8 1108.2,324.8 1111.6,322.6 1115.3,323.4 1118.9,325.0 1122.6,322.3 1126.1,324.0 1129.7,322.8 1133.2,324.4 1136.9,322.6 1140.5,323.6 1144.0,323.1 1147.5,322.0 1151.1,324.4 1154.6,323.4 1158.2,323.0 1162.0,323.6 1165.4,322.5 1169.3,322.9 1172.7,323.6 1176.4,323.6 1180.1,323.0 1183.6,323.0 1187.2,324.6 1190.7,322.2 1194.3,325.6 1198.0,323.4 1201.7,323.6 1205.3,323.8 1208.8,322.6 1212.4,323.4 1215.9,324.2 1219.6,321.2 1223.3,321.7 1226.9,320.9 1230.2,320.9 1233.9,321.2 1237.4,324.0 1241.2,322.8 1244.7,323.0 1248.3,323.6 1251.8,323.4 1255.5,322.6 1259.1,323.4 1262.8,324.2 1266.2,323.8 1270.0,325.0 1273.4,321.3 1277.3,324.8 1280.7,324.4 1284.4,323.8 1287.9,323.4 1291.5,321.3 1295.2,320.3 1298.9,324.0 1302.3,323.0 1306.0,322.6 1309.5,321.5 1313.1,321.2 1316.6,322.3 1320.3,324.0 1323.9,321.7 1327.4,324.0 1330.9,323.4 1334.5,321.5 1338.0,318.5 1341.9,322.2 1345.5,322.0 1349.2,320.7 1352.7,323.4 1356.1,324.0 1359.8,324.0 1363.5,324.0 1366.9,323.4 1370.6,323.6 1374.1,322.8 1377.7,323.1 1381.2,324.8 1384.8,322.6 1388.6,323.1 1392.1,324.2 1395.7,322.8 1398.9,324.0 1402.6,323.1 1406.2,321.7 1409.8,323.4 1413.2,313.0 1417.3,320.1 1420.9,322.6" fill="none" stroke="#f9a10f" stroke-width="2" stroke-linejoin="round" />
<polyline points="910.7,309.5 914.1,303.8 917.6,313.2 921.3,305.9 925.0,309.1 928.5,305.9 932.1,314.4 935.8,303.4 939.4,305.9 942.9,308.3 946.4,313.6" fill="none" stroke="#ee4b3c" stroke-width="2" stroke-linejoin="round" />
<polyline points="957.6,307.1 961.1,309.1 964.5,304.6 968.0,312.8 971.7,305.0 975.3,309.9 978.8,310.1 982.3,306.7 985.8,305.0 989.4,309.9 993.0,307.5 996.7,311.2 1000.2,314.8 1003.8,307.9 1007.5,305.4 1011.1,303.4 1014.9,309.5 1018.3,305.9 1022.0,303.8 1025.5,309.5 1028.9,306.7 1032.5,306.7 1036.3,311.8 1039.7,304.4 1043.6,308.3 1047.2,304.1 1050.6,306.7 1054.2,304.9 1057.8,310.3 1061.5,303.4 1065.2,307.1 1068.6,310.7 1072.1,307.3 1075.7,310.3 1079.4,303.0 1083.1,310.3 1086.8,304.2 1090.4,307.5 1093.8,307.9 1097.3,310.7 1100.9,307.9 1104.4,304.1 1108.2,313.0 1111.6,309.1 1115.3,306.7 1118.9,313.4 1122.6,299.7 1126.1,306.3 1129.7,303.8 1133.2,309.8 1136.9,309.9 1140.5,305.4 1144.0,307.6 1147.5,306.8 1151.1,303.4 1154.6,309.9 1158.2,309.8 1162.0,305.9 1165.4,306.7 1169.3,305.0 1172.7,306.7 1176.4,307.9 1180.1,309.1 1183.6,302.4 1187.2,309.1 1190.7,302.6 1194.3,310.1 1198.0,307.9 1201.7,309.5 1205.3,312.4 1208.8,308.7 1212.4,310.6 1215.9,306.7 1219.6,306.0 1223.3,305.0 1226.9,304.6 1230.2,304.6 1233.9,302.6 1237.4,309.8 1241.2,304.9 1244.7,309.1 1248.3,300.6 1251.8,306.8 1255.5,312.0 1259.1,304.1 1262.8,308.1 1266.2,307.3 1270.0,311.6 1273.4,307.5 1277.3,313.4 1280.7,309.3 1284.4,306.8 1287.9,310.1 1291.5,307.1 1295.2,306.4 1298.9,306.8 1302.3,296.9 1306.0,312.8 1309.5,311.6 1313.1,307.9 1316.6,307.9 1320.3,306.0 1323.9,305.4 1327.4,299.7 1330.9,308.7 1334.5,311.2 1338.0,307.6 1341.9,309.3 1345.5,297.5 1349.2,305.4 1352.7,306.3 1356.1,308.1 1359.8,302.4 1363.5,305.2 1366.9,302.4 1370.6,305.9 1374.1,307.3 1377.7,304.9 1381.2,310.3 1384.8,304.6 1388.6,309.1 1392.1,314.2 1395.7,304.1 1398.9,304.1 1402.6,307.9 1406.2,310.6 1409.8,309.3 1413.2,309.1 1417.3,312.0 1420.9,306.8" fill="none" stroke="#ee4b3c" stroke-width="2" stroke-linejoin="round" />
<polyline points="910.8,203.9 914.1,190.1 917.9,182.7 921.7,187.9 924.9,201.3 928.8,183.7 932.0,191.1 935.8,163.8 939.7,175.7 942.9,179.8 946.7,215.7" fill="none" stroke="#0a9ad8" stroke-width="2" stroke-linejoin="round" />
<polyline points="957.3,189.1 961.1,178.2 964.7,198.1 967.9,215.7 971.7,187.9 975.5,180.5 979.1,179.8 982.6,170.9 986.1,176.6 990.0,185.3 993.5,182.7 996.7,198.1 1000.5,202.3 1004.4,179.8 1007.6,190.1 1011.1,181.4 1014.6,186.3 1018.5,177.3 1022.0,172.5 1025.5,192.7 1029.3,175.7 1032.9,167.7 1036.4,193.9 1040.2,175.7 1043.8,178.9 1047.0,185.9 1050.5,191.7 1054.3,193.3 1057.8,184.3 1061.7,182.1 1064.9,185.9 1068.4,192.7 1071.9,183.1 1075.8,198.1 1079.3,177.3 1082.8,191.1 1086.3,182.1 1089.9,197.5 1093.7,189.5 1097.2,206.1 1100.8,185.3 1104.6,186.3 1108.1,210.9 1112.0,197.5 1115.5,187.9 1119.0,202.3 1122.9,155.8 1126.4,182.1 1130.2,191.1 1133.7,184.7 1137.3,194.9 1140.8,170.9 1144.6,194.3 1148.2,174.7 1151.7,187.9 1155.5,185.9 1159.0,197.5 1162.9,188.5 1166.4,168.6 1169.3,153.3 1173.5,191.1 1177.0,191.1 1180.8,188.5 1184.3,163.8 1187.9,186.3 1191.4,172.5 1194.9,200.7 1198.4,186.9 1202.0,172.5 1205.5,205.5 1209.3,186.9 1212.9,194.9 1216.4,188.5 1219.9,172.5 1223.1,160.6 1226.9,187.5 1230.7,167.0 1234.3,162.9 1238.1,174.1 1241.6,171.8 1244.8,207.7 1248.4,178.9 1252.2,189.4 1256.0,192.6 1259.6,174.1 1262.8,178.9 1266.6,167.7 1270.1,201.3 1274.0,169.9 1277.5,202.9 1281.3,179.5 1284.5,169.3 1288.1,171.8 1291.9,184.3 1295.4,165.1 1298.9,174.1 1302.5,165.1 1306.3,175.7 1309.8,183.0 1313.4,168.3 1316.9,169.3 1320.4,167.7 1323.9,156.5 1327.8,165.1 1331.3,179.5 1335.1,177.9 1338.3,127.6 1342.2,162.9 1345.7,151.7 1349.2,160.6 1352.7,180.5 1356.3,191.0 1360.1,158.1 1363.6,199.1 1367.2,167.7 1370.7,193.9 1374.2,185.3 1377.7,177.3 1381.2,193.3 1384.8,165.1 1388.3,176.3 1392.1,195.8 1395.7,174.1 1399.5,176.3 1403.0,193.9 1406.5,183.7 1410.1,199.1 1413.9,134.0 1417.8,194.9 1421.3,179.5" fill="none" stroke="#0a9ad8" stroke-width="2" stroke-linejoin="round" />
</svg>

<!-- chart 1 labels -->
<div class="a t11 ylab" style="left:40px;width:79px;top:106.7px">20000 ms</div>
<div class="a t11 ylab" style="left:40px;width:79px;top:160.7px">15000 ms</div>
<div class="a t11 ylab" style="left:40px;width:79px;top:214.7px">10000 ms</div>
<div class="a t11 ylab" style="left:40px;width:79px;top:268.7px">5000 ms</div>
<div class="a t11 ylab" style="left:40px;width:79px;top:322.7px">0 ms</div>
<div class="a t11 xlab" style="left:136.2px;width:60px;top:335.2px">16:00</div>
<div class="a t11 xlab" style="left:220.5px;width:60px;top:335.2px">20:00</div>
<div class="a t11 xlab" style="left:304.4px;width:60px;top:335.2px">00:00</div>
<div class="a t11 xlab" style="left:388.3px;width:60px;top:335.2px">04:00</div>
<div class="a t11 xlab" style="left:472.4px;width:60px;top:335.2px">08:00</div>
<div class="a t11 xlab" style="left:556.6px;width:60px;top:335.2px">12:00</div>
<div class="a t11 xlab" style="left:253.5px;width:200px;top:349.5px;letter-spacing:0.3px">per 10 minutes</div>

<!-- chart 2 labels -->
<div class="a t11 ylab" style="left:820px;width:82px;top:106.7px">70 rpm</div>
<div class="a t11 ylab" style="left:820px;width:82px;top:138px">60 rpm</div>
<div class="a t11 ylab" style="left:820px;width:82px;top:168.9px">50 rpm</div>
<div class="a t11 ylab" style="left:820px;width:82px;top:199.9px">40 rpm</div>
<div class="a t11 ylab" style="left:820px;width:82px;top:230.3px">30 rpm</div>
<div class="a t11 ylab" style="left:820px;width:82px;top:261.7px">20 rpm</div>
<div class="a t11 ylab" style="left:820px;width:82px;top:292.1px">10 rpm</div>
<div class="a t11 ylab" style="left:820px;width:82px;top:322.7px">0 rpm</div>
<div class="a t11 xlab" style="left:920.2px;width:60px;top:335.2px">16:00</div>
<div class="a t11 xlab" style="left:1006.4px;width:60px;top:335.2px">20:00</div>
<div class="a t11 xlab" style="left:1092.5px;width:60px;top:335.2px">00:00</div>
<div class="a t11 xlab" style="left:1178.4px;width:60px;top:335.2px">04:00</div>
<div class="a t11 xlab" style="left:1265.4px;width:60px;top:335.2px">08:00</div>
<div class="a t11 xlab" style="left:1351.6px;width:60px;top:335.2px">12:00</div>
<div class="a t11 xlab" style="left:1049.7px;width:200px;top:349.5px;letter-spacing:0.3px">per 10 minutes</div>

<!-- legend 1 -->
<div class="hl" style="left:651px;top:111px;width:170px;background:#d3d3d3"></div>
<div class="hl" style="left:651px;top:137px;width:170px;background:#d3d3d3"></div>
<div class="hl" style="left:651px;top:163px;width:170px;background:#d3d3d3"></div>
<div class="hl" style="left:651px;top:189px;width:170px;background:#d3d3d3"></div>
<svg class="a" style="left:638px;top:118px" width="12" height="14"><path d="M3,2 L8,7 L3,12" fill="none" stroke="#888" stroke-width="2"/></svg>
<svg class="a" style="left:650px;top:115px" width="20" height="70"><circle cx="10.2" cy="10" r="4.8" fill="#0b8fd6"/><circle cx="10.2" cy="36" r="4.8" fill="#70d5fc"/><circle cx="10.2" cy="62" r="4.8" fill="#fb8c00"/></svg>
<div class="a t11 leg" style="left:670.3px;top:119.6px">Average</div>
<div class="a t11 leg" style="left:670.3px;top:145.6px;letter-spacing:0.1px">95th Percentile (95)</div>
<div class="a t11 leg" style="left:670.3px;top:171.6px;letter-spacing:0.1px">99th Percentile (99)</div>
<div class="a t11 legv" style="left:715.4px;width:100px;top:119.6px">343 ms</div>
<div class="a t11 legv" style="left:715.4px;width:100px;top:145.6px">911 ms</div>
<div class="a t11 legv" style="left:715.4px;width:100px;top:171.6px">1276 ms</div>

<!-- legend 2 -->
<div class="hl" style="left:1447px;top:111px;width:170px;background:#d3d3d3"></div>
<div class="hl" style="left:1447px;top:137px;width:170px;background:#d3d3d3"></div>
<div class="hl" style="left:1447px;top:163px;width:170px;background:#d3d3d3"></div>
<div class="hl" style="left:1447px;top:189px;width:170px;background:#d3d3d3"></div>
<div class="hl" style="left:1447px;top:215px;width:170px;background:#d3d3d3"></div>
<svg class="a" style="left:1434px;top:118px" width="12" height="14"><path d="M3,2 L8,7 L3,12" fill="none" stroke="#888" stroke-width="2"/></svg>
<svg class="a" style="left:1446px;top:115px" width="20" height="96"><circle cx="10.1" cy="10" r="4.8" fill="#0a9ee0"/><circle cx="10.1" cy="36" r="4.8" fill="#0a56a5"/><circle cx="10.1" cy="62" r="4.8" fill="#fba00a"/><circle cx="10.1" cy="88" r="4.8" fill="#ef4c3c"/></svg>
<div class="a t11 leg" style="left:1466.3px;top:119.6px">2xx</div>
<div class="a t11 leg" style="left:1466.3px;top:145.6px">3xx</div>
<div class="a t11 leg" style="left:1466.3px;top:171.6px">4xx</div>
<div class="a t11 leg" style="left:1466.3px;top:197.6px">5xx</div>
<div class="a t11 legv" style="left:1511.8px;width:100px;top:119.6px">48.5 rpm</div>
<div class="a t11 legv" style="left:1511.8px;width:100px;top:145.6px">0 rpm</div>
<div class="a t11 legv" style="left:1511.8px;width:100px;top:171.6px">1.6 rpm</div>
<div class="a t11 legv" style="left:1511.8px;width:100px;top:197.6px">7 rpm</div>

<div class="a t14 hdr" style="left:71.6px;top:412px;letter-spacing:0.3px">Transaction<svg style="margin-left:3.5px;vertical-align:top;margin-top:1px" width="10" height="12"><path d="M0.4,4.8 L4.5,0.5 L8.6,4.8 Z M0.4,7.3 L4.5,11.5 L8.6,7.3 Z" fill="#b5bec6"/></svg></div>
<div class="a t14 hdr" style="left:491.5px;top:412px;letter-spacing:0.2px">Type<svg style="margin-left:3.5px;vertical-align:top;margin-top:1px" width="10" height="12"><path d="M0.4,4.8 L4.5,0.5 L8.6,4.8 Z M0.4,7.3 L4.5,11.5 L8.6,7.3 Z" fill="#b5bec6"/></svg></div>
<div class="a t14 hdr" style="left:660px;top:412px;letter-spacing:0.0px">Avg. Resp Time (ms)<svg style="margin-left:3.5px;vertical-align:top;margin-top:1px" width="10" height="12"><path d="M0.4,4.8 L4.5,0.5 L8.6,4.8 Z M0.4,7.3 L4.5,11.5 L8.6,7.3 Z" fill="#b5bec6"/></svg></div>
<div class="a t14 hdr" style="left:962.4px;top:412px;letter-spacing:0.27px">95th percentile of Resp Time (ms)<svg style="margin-left:3.5px;vertical-align:top;margin-top:1px" width="10" height="12"><path d="M0.4,4.8 L4.5,0.5 L8.6,4.8 Z M0.4,7.3 L4.5,11.5 L8.6,7.3 Z" fill="#b5bec6"/></svg></div>
<div class="a t14 hdr" style="left:1444px;top:412px;letter-spacing:0.18px">View Traces<svg style="margin-left:3.5px;vertical-align:top;margin-top:1px" width="10" height="12"><path d="M0.4,4.8 L4.5,0.5 L8.6,4.8 Z M0.4,7.3 L4.5,11.5 L8.6,7.3 Z" fill="#b5bec6"/></svg></div>
<div class="hl" style="left:66px;top:434px;width:1572px;background:#d6d6d6"></div>
<div class="a t14 cell" style="left:71.6px;top:443px;letter-spacing:0.25px">GET /api/stats</div>
<div class="a t14 cell" style="left:491.5px;top:443px;letter-spacing:0.25px">request</div>
<div class="a t14 cell" style="left:660px;top:443px;letter-spacing:0.25px">728</div>
<div class="a t14 cell" style="left:962.4px;top:443px;letter-spacing:0.25px">1117</div>
<div class="a t14 lnk" style="left:1444px;top:443px;letter-spacing:0.05px">View Traces</div>
<div class="hl" style="left:66px;top:465px;width:1572px;background:#d6d6d6"></div>
<div class="a t14 cell" style="left:71.6px;top:474px;letter-spacing:0.25px">GET /api/products/top</div>
<div class="a t14 cell" style="left:491.5px;top:474px;letter-spacing:0.25px">request</div>
<div class="a t14 cell" style="left:660px;top:474px;letter-spacing:0.25px">722</div>
<div class="a t14 cell" style="left:962.4px;top:474px;letter-spacing:0.25px">1103</div>
<div class="a t14 lnk" style="left:1444px;top:474px;letter-spacing:0.05px">View Traces</div>
<div class="hl" style="left:66px;top:496px;width:1572px;background:#d6d6d6"></div>
<div class="a t14 cell" style="left:71.6px;top:505px;letter-spacing:0.25px">Serve to customer</div>
<div class="a t14 cell" style="left:491.5px;top:505px;letter-spacing:0.25px">Brewing Bot</div>
<div class="a t14 cell" style="left:660px;top:505px;letter-spacing:0.25px">519</div>
<div class="a t14 cell" style="left:962.4px;top:505px;letter-spacing:0.25px">966</div>
<div class="a t14 lnk" style="left:1444px;top:505px;letter-spacing:0.05px">View Traces</div>
<div class="hl" style="left:66px;top:527px;width:1572px;background:#d6d6d6"></div>
<div class="a t14 cell" style="left:71.6px;top:536px;letter-spacing:0.25px">Boil water</div>
<div class="a t14 cell" style="left:491.5px;top:536px;letter-spacing:0.25px">Brewing Bot</div>
<div class="a t14 cell" style="left:660px;top:536px;letter-spacing:0.25px">503</div>
<div class="a t14 cell" style="left:962.4px;top:536px;letter-spacing:0.25px">961</div>
<div class="a t14 lnk" style="left:1444px;top:536px;letter-spacing:0.05px">View Traces</div>
<div class="hl" style="left:66px;top:558px;width:1572px;background:#d6d6d6"></div>
<div class="a t14 cell" style="left:71.6px;top:567px;letter-spacing:0.25px">Roast beans</div>
<div class="a t14 cell" style="left:491.5px;top:567px;letter-spacing:0.25px">Brewing Bot</div>
<div class="a t14 cell" style="left:660px;top:567px;letter-spacing:0.25px">501</div>
<div class="a t14 cell" style="left:962.4px;top:567px;letter-spacing:0.25px">960</div>
<div class="a t14 lnk" style="left:1444px;top:567px;letter-spacing:0.05px">View Traces</div>
<div class="hl" style="left:66px;top:589px;width:1572px;background:#d6d6d6"></div>
<div class="a t14 cell" style="left:71.6px;top:598px;letter-spacing:0.25px">Pour water</div>
<div class="a t14 cell" style="left:491.5px;top:598px;letter-spacing:0.25px">Brewing Bot</div>
<div class="a t14 cell" style="left:660px;top:598px;letter-spacing:0.25px">499</div>
<div class="a t14 cell" style="left:962.4px;top:598px;letter-spacing:0.25px">952</div>
<div class="a t14 lnk" style="left:1444px;top:598px;letter-spacing:0.05px">View Traces</div>
<div class="hl" style="left:66px;top:620px;width:1572px;background:#d6d6d6"></div>
<div class="a t14 cell" style="left:71.6px;top:629px;letter-spacing:0.25px">Grind beans</div>
<div class="a t14 cell" style="left:491.5px;top:629px;letter-spacing:0.25px">Brewing Bot</div>
<div class="a t14 cell" style="left:660px;top:629px;letter-spacing:0.25px">497</div>
<div class="a t14 cell" style="left:962.4px;top:629px;letter-spacing:0.25px">956</div>
<div class="a t14 lnk" style="left:1444px;top:629px;letter-spacing:0.05px">View Traces</div>
<div class="hl" style="left:66px;top:651px;width:1572px;background:#d6d6d6"></div>
<div class="a t14 cell" style="left:71.6px;top:660px;letter-spacing:0.25px">GET /api/products/:id/customers</div>
<div class="a t14 cell" style="left:491.5px;top:660px;letter-spacing:0.25px">request</div>
<div class="a t14 cell" style="left:660px;top:660px;letter-spacing:0.25px">446</div>
<div class="a t14 cell" style="left:962.4px;top:660px;letter-spacing:0.25px">1350</div>
<div class="a t14 lnk" style="left:1444px;top:660px;letter-spacing:0.05px">View Traces</div>
<div class="hl" style="left:66px;top:682px;width:1572px;background:#d6d6d6"></div>
<div class="a t14 cell" style="left:71.6px;top:691px;letter-spacing:0.25px">POST /api/orders</div>
<div class="a t14 cell" style="left:491.5px;top:691px;letter-spacing:0.25px">request</div>
<div class="a t14 cell" style="left:660px;top:691px;letter-spacing:0.25px">355</div>
<div class="a t14 cell" style="left:962.4px;top:691px;letter-spacing:0.25px">521</div>
<div class="a t14 lnk" style="left:1444px;top:691px;letter-spacing:0.05px">View Traces</div>
<div class="hl" style="left:66px;top:713px;width:1572px;background:#d6d6d6"></div>
<div class="a t14 cell" style="left:71.6px;top:722px;letter-spacing:0.25px">GET /api/orders</div>
<div class="a t14 cell" style="left:491.5px;top:722px;letter-spacing:0.25px">request</div>
<div class="a t14 cell" style="left:660px;top:722px;letter-spacing:0.25px">109</div>
<div class="a t14 cell" style="left:962.4px;top:722px;letter-spacing:0.25px">314</div>
<div class="a t14 lnk" style="left:1444px;top:722px;letter-spacing:0.05px">View Traces</div>
<div class="hl" style="left:66px;top:744px;width:1572px;background:#d6d6d6"></div>
<div class="a t14 cell" style="left:71.6px;top:753px;letter-spacing:0.25px">GET /api/types/:id</div>
<div class="a t14 cell" style="left:491.5px;top:753px;letter-spacing:0.25px">request</div>
<div class="a t14 cell" style="left:660px;top:753px;letter-spacing:0.25px">109</div>
<div class="a t14 cell" style="left:962.4px;top:753px;letter-spacing:0.25px">240</div>
<div class="a t14 lnk" style="left:1444px;top:753px;letter-spacing:0.05px">View Traces</div>
<div class="hl" style="left:66px;top:775px;width:1572px;background:#d6d6d6"></div>
<div class="a t14 cell" style="left:71.6px;top:784px;letter-spacing:0.25px">GET /api/orders/:id</div>
<div class="a t14 cell" style="left:491.5px;top:784px;letter-spacing:0.25px">request</div>
<div class="a t14 cell" style="left:660px;top:784px;letter-spacing:0.25px">107</div>
<div class="a t14 cell" style="left:962.4px;top:784px;letter-spacing:0.25px">469</div>
<div class="a t14 lnk" style="left:1444px;top:784px;letter-spacing:0.05px">View Traces</div>
<div class="hl" style="left:66px;top:806px;width:1572px;background:#d6d6d6"></div>
<div class="a t14 cell" style="left:71.6px;top:815px;letter-spacing:0.25px">GET /api/customers</div>
<div class="a t14 cell" style="left:491.5px;top:815px;letter-spacing:0.25px">request</div>
<div class="a t14 cell" style="left:660px;top:815px;letter-spacing:0.25px">101</div>
<div class="a t14 cell" style="left:962.4px;top:815px;letter-spacing:0.25px">271</div>
<div class="a t14 lnk" style="left:1444px;top:815px;letter-spacing:0.05px">View Traces</div>
<div class="hl" style="left:66px;top:837px;width:1572px;background:#d6d6d6"></div>
<div class="a t14 cell" style="left:71.6px;top:846px;letter-spacing:0.25px">GET /api/products/:id</div>
<div class="a t14 cell" style="left:491.5px;top:846px;letter-spacing:0.25px">request</div>
<div class="a t14 cell" style="left:660px;top:846px;letter-spacing:0.25px">98</div>
<div class="a t14 cell" style="left:962.4px;top:846px;letter-spacing:0.25px">493</div>
<div class="a t14 lnk" style="left:1444px;top:846px;letter-spacing:0.05px">View Traces</div>
<div class="hl" style="left:66px;top:868px;width:1572px;background:#d6d6d6"></div>
<div class="a t14 cell" style="left:71.6px;top:877px;letter-spacing:0.25px">GET static file</div>
<div class="a t14 cell" style="left:491.5px;top:877px;letter-spacing:0.25px">request</div>
<div class="a t14 cell" style="left:660px;top:877px;letter-spacing:0.25px">80</div>
<div class="a t14 cell" style="left:962.4px;top:877px;letter-spacing:0.25px">523</div>
<div class="a t14 lnk" style="left:1444px;top:877px;letter-spacing:0.05px">View Traces</div>
<div class="hl" style="left:66px;top:899px;width:1572px;background:#d6d6d6"></div>
<div class="a t14 cell" style="left:71.6px;top:908px;letter-spacing:0.25px">GET /api/customers/:id</div>
<div class="a t14 cell" style="left:491.5px;top:908px;letter-spacing:0.25px">request</div>
<div class="a t14 cell" style="left:660px;top:908px;letter-spacing:0.25px">77</div>
<div class="a t14 cell" style="left:962.4px;top:908px;letter-spacing:0.25px">338</div>
<div class="a t14 lnk" style="left:1444px;top:908px;letter-spacing:0.05px">View Traces</div>
<div class="hl" style="left:66px;top:930px;width:1572px;background:#d6d6d6"></div>

<!-- scrollbar -->
<div class="a" style="left:1653px;top:0;width:3px;height:937px;background:#f1f1f1;"></div>
<div class="a" style="left:1654.5px;top:14px;width:1.5px;height:617px;background:#bdbdbd;"></div>
<div class="a" style="left:1653px;top:922px;width:3px;height:15px;background:#d0d0d0;"></div>

</div></body></html>
